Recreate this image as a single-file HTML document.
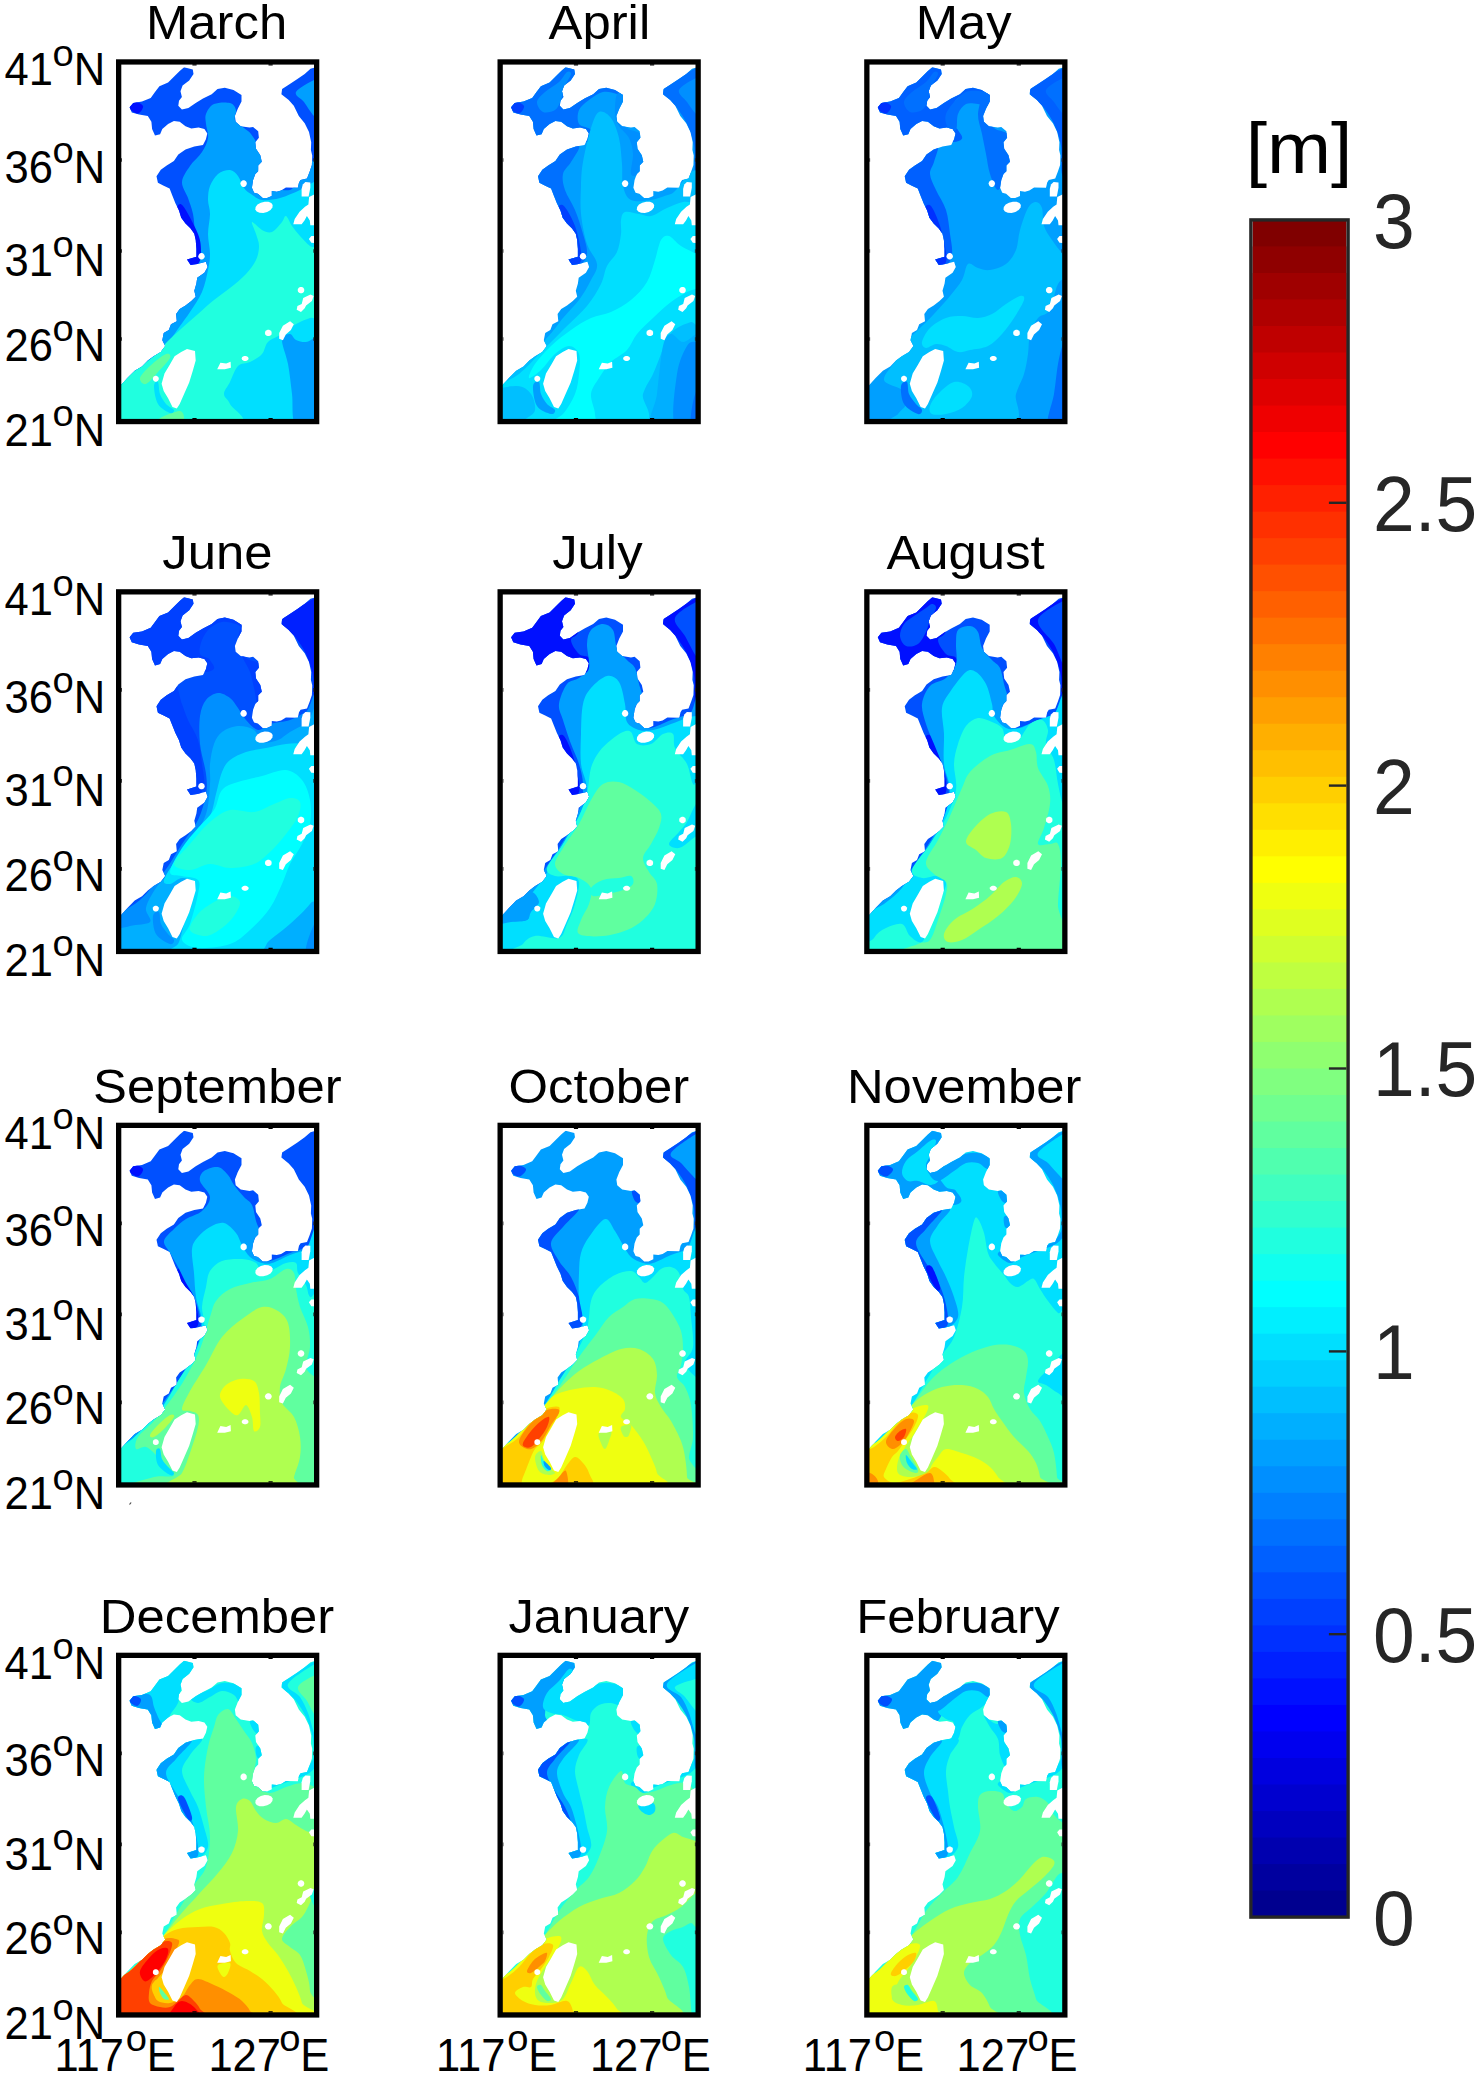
<!DOCTYPE html>
<html><head><meta charset="utf-8"><title>Monthly significant wave height</title>
<style>html,body{margin:0;padding:0;background:#fff}svg{display:block}text{font-family:"Liberation Sans",Arial,Helvetica,sans-serif}</style></head><body>
<svg width="1480" height="2076" viewBox="0 0 1480 2076">
<rect width="1480" height="2076" fill="#fff"/>
<defs>
<clipPath id="oc"><path d="M68.1 8L76.8 10.2L77.5 14.6L73.2 21.1L66.6 26.2L64.5 32L65.9 37.8L63 41.5L62.3 46.5L65.9 50.2L72.4 48.7L79.7 43.6L87 39.3L95.7 34.9L101.5 29.8L108.8 28.4L117.5 30.6L125.5 35.6L125.5 42.2L121.8 49.4L118.9 56.7L119.7 62.5L124.7 66.9L133.5 68.3L137.1 67.6L142.2 72L142.9 78.5L139.3 82.9L140 89.4L144.3 95.9L145.8 102.5L142.2 106.1L142.2 111.9L139.3 114.8L137.1 120.6L135.9 128.5L138.1 133.4L141.9 134.4L146.7 138.8L151 138.8L155.8 136.6L155.8 131.8L160.8 132.4L165.1 131.2L169.9 128.3L181.8 128.5L183 123.1L184.6 120.6L191 119.3L193.7 112.3L195.9 105.8L196.2 96.1L194.9 90.7L195.2 82.9L193 72.7L188.7 64L182.8 56.7L177.8 46.5L172.7 40.7L165.4 34.9L166.1 29.8L172.7 25.5L181.4 19.7L188.7 14.6L194.5 9.5L198.8 8.2L199 360.8L4.3 360.8L4.2 326.7L11.4 318.7L18.7 311.4L26 307.1L31.8 301.3L37.6 296.9L44.8 292.6L49.2 286.7L46.3 280.9L47.7 273.7L52.8 270.8L55 265L60.8 262L60.1 254.8L63.7 249.7L69.5 246.1L75.3 241.7L79.7 237.4L78.3 231.5L80.4 224.3L81.2 218.5L88.4 213.4L91.6 207.6L89.9 202.5L81.2 204.7L74.6 205.7L71 200.3L80.4 197.4L80.4 189.4L79.7 180.7L78.3 174.4L74.6 169.3L69.5 164.2L65.2 158.4L63 151.1L59.4 143.9L56.5 136.6L53.6 129.3L47.7 126.4L41.9 123.5L40.5 117L44.8 110.5L50.7 106.1L57.9 101.7L62.3 95.2L69.5 90.1L78.3 87.2L87 85.8L89.9 80L91.3 74.1L88.4 69.8L82.6 68.3L75.3 69.1L69.5 66.9L63.7 62.5L57.9 61.8L52.1 64.7L46.3 69.8L44.1 74.9L39 76.3L36.1 69.8L35.4 62.5L31.8 56.7L23.1 55.3L15.8 53.1L13.6 48L17.2 43.6L26 42.2L34.7 38.6L39 32.7L43.4 26.9L52.1 23.3L57.9 17.5L63.7 11.7Z"/></clipPath>
<clipPath id="bx"><rect x="2.65" y="2.65" width="198.0" height="359.59999999999997"/></clipPath>
<g id="isl" fill="#fff"><path d="M65.2 292.6L71 289.6L79 291.8L79.7 301.3L76.8 311.4L73.2 323.1L68.1 334.7L63.7 344.8L60.8 349.2L56.5 347.8L52.1 339L47.7 331.8L45.6 324.5L48.5 314.3L53.6 305.6L58.6 296.9Z"/><path d="M42.8 319.4L42.5 320.7L41.6 321.8L40.4 322.4L39.1 322.4L37.9 321.8L37.1 320.7L36.8 319.4L37.1 318.1L37.9 317.1L39.1 316.5L40.4 316.5L41.6 317.1L42.5 318.1Z"/><path d="M101.2 310L104.4 303.4L110.2 304.2L114.6 302.4L114.9 308.5L108.8 310Z"/><path d="M132.5 299.1L132.2 300.2L131.2 301.1L129.9 301.6L128.3 301.6L127 301.1L126 300.2L125.7 299.1L126 298L127 297.1L128.3 296.6L129.9 296.6L131.2 297.1L132.2 298Z"/><path d="M155.7 273.7L155.4 275.1L154.5 276.2L153.1 276.8L151.6 276.8L150.2 276.2L149.3 275.1L148.9 273.7L149.3 272.3L150.2 271.2L151.6 270.5L153.1 270.5L154.5 271.2L155.4 272.3Z"/><path d="M163.2 273.7L166.9 266.4L174.1 262L177.8 265L174.9 270.8L169.8 275.1L166.9 280.9L163.2 279.5Z"/><path d="M188.3 230.8L188 232.2L187.1 233.4L185.8 234L184.3 234L183 233.4L182 232.2L181.7 230.8L182 229.4L183 228.2L184.3 227.6L185.8 227.6L187.1 228.2L188 229.4Z"/><path d="M187.2 238.8L194.5 235.2L197.7 236.6L195.9 241.7L190.1 246.1L188.7 249L185 252.6L180.7 250.4L181.4 246.8L185.7 244.6Z"/><path d="M193.7 180L198.8 180L198.8 183.9L195.9 182.9Z"/><path d="M88.7 197L88.4 198.4L87.5 199.5L86.2 200.1L84.8 200.1L83.5 199.5L82.6 198.4L82.3 197L82.6 195.6L83.5 194.5L84.8 193.8L86.2 193.8L87.5 194.5L88.4 195.6Z"/><path d="M156.7 145.8L156.4 148.3L154.5 150.7L151.2 152.6L147.3 153.6L143.6 153.5L140.7 152.2L139.3 150.2L139.6 147.7L141.5 145.3L144.8 143.4L148.7 142.4L152.4 142.5L155.3 143.8Z"/><path d="M130.8 124.3L130.5 125.7L129.6 126.9L128.4 127.6L126.9 127.6L125.6 126.9L124.8 125.7L124.4 124.3L124.8 122.8L125.6 121.6L126.9 120.9L128.4 120.9L129.6 121.6L130.5 122.8Z"/><path d="M186.8 125.3L189.4 122.7L194.3 123.1L194.3 128.5L192.6 137.2L185.6 137.2L185.6 129.6Z"/><path d="M177.3 165L178.7 159.7L183.6 152.4L189 147.5L192.4 145.1L193.1 137.8L198.7 134.9L198.7 166L194.3 166L193.8 161.1L190.9 156.8L188.5 161.1L185.6 165Z"/><path d="M192.9 179.6L195.3 176.7L198.7 176.7L198.7 183.5L195.3 183.5Z"/></g>
<g id="fr"><rect x="2.65" y="2.65" width="198.0" height="359.59999999999997" fill="none" stroke="#000" stroke-width="5.3"/>
<path d="M78.5 5.0 v1.3 M78.5 359.9 v-1.3" stroke="#000" stroke-width="4.2" fill="none"/>
<path d="M154.6 5.0 v1.3 M154.6 359.9 v-1.3" stroke="#000" stroke-width="4.2" fill="none"/>
<path d="M5.0 100.7 h0.9 M198.3 100.7 h-0.9" stroke="#222" stroke-width="3.6" fill="none"/>
<path d="M5.0 191.7 h0.9 M198.3 191.7 h-0.9" stroke="#222" stroke-width="3.6" fill="none"/>
<path d="M5.0 279.7 h0.9 M198.3 279.7 h-0.9" stroke="#222" stroke-width="3.6" fill="none"/>
</g>
</defs>
<g transform="translate(116.0 59.3)">
<g clip-path="url(#bx)"><g clip-path="url(#oc)">
<rect x="0" y="0" width="203.3" height="364.9" fill="#0050ff"/>
<path d="M90 54.7C91.3 51.4 94 46.5 98 44.7C102 42.9 110.3 42.7 114 43.7C117.7 44.7 119.2 47.9 120 50.7C120.8 53.5 117.7 57.7 119 60.7C120.3 63.7 125.3 66.4 128 68.7C130.7 71 132.7 71.7 135 74.7C137.3 77.7 140.2 82 142 86.7C143.8 91.4 146 98 146 102.7C146 107.4 140.7 111 142 114.7C143.3 118.4 148.7 122 154 124.7C159.3 127.4 165.3 132.4 174 130.7C182.7 129 200.7 75.4 206 114.7C211.3 154 241.3 324.7 206 366.7C170.7 408.7 29.3 382 -6 366.7C-41.3 351.4 -16 296.7 -6 274.7C4 252.7 39.3 247 54 234.7C68.7 222.4 77.8 210.7 82 200.7C86.2 190.7 79.8 182.4 79 174.7C78.2 167 78.2 160.7 77 154.7C75.8 148.7 73.8 144 72 138.7C70.2 133.4 65.7 128 66 122.7C66.3 117.4 70.7 111.7 74 106.7C77.3 101.7 83 97.4 86 92.7C89 88 91.3 83.4 92 78.7C92.7 74 90.3 68.7 90 64.7C89.7 60.7 88.7 58 90 54.7Z" fill="#009fff"/>
<path d="M180 32.7C181.7 29 193.7 23 198 20.7C202.3 18.4 204.7 12 206 18.7C207.3 25.4 207.3 54.4 206 60.7C204.7 67 201 59.7 198 56.7C195 53.7 191 46.7 188 42.7C185 38.7 178.3 36.4 180 32.7Z" fill="#009fff"/>
<path d="M94 126.7C95.7 122.4 98.7 117.4 102 114.7C105.3 112 110.7 110.4 114 110.7C117.3 111 119.7 113.7 122 116.7C124.3 119.7 125.8 125.7 128 128.7C130.2 131.7 132 132.7 135 134.7C138 136.7 141.2 140 146 140.7C150.8 141.4 157.7 140.4 164 138.7C170.3 137 178.3 133.4 184 130.7C189.7 128 194.3 124.4 198 122.7C201.7 121 204.7 80 206 120.7C207.3 161.4 241.3 325.7 206 366.7C170.7 407.7 29.3 372 -6 366.7C-41.3 361.4 -11 344 -6 334.7C-1 325.4 16 317.4 24 310.7C32 304 37 299.7 42 294.7C47 289.7 50.3 285.4 54 280.7C57.7 276 60.7 271.4 64 266.7C67.3 262 70.3 258.4 74 252.7C77.7 247 83 239.7 86 232.7C89 225.7 90.7 217 92 210.7C93.3 204.4 94 200.7 94 194.7C94 188.7 92 181.4 92 174.7C92 168 94 160.4 94 154.7C94 149 92 145.4 92 140.7C92 136 92.3 131 94 126.7Z" fill="#00dfff"/>
<path d="M136 162.7C137 162 142.7 169 146 170.7C149.3 172.4 152.7 174 156 172.7C159.3 171.4 163.7 165.4 166 162.7C168.3 160 168.3 156 170 156.7C171.7 157.4 173.7 163.4 176 166.7C178.3 170 181 173.4 184 176.7C187 180 190.3 183.7 194 186.7C197.7 189.7 204 183.4 206 194.7C208 206 208 244 206 254.7C204 265.4 198.3 257 194 258.7C189.7 260.4 184.7 262 180 264.7C175.3 267.4 170.7 271.7 166 274.7C161.3 277.7 155.3 279.4 152 282.7C148.7 286 149 291.4 146 294.7C143 298 138 300.7 134 302.7C130 304.7 125.3 303.4 122 306.7C118.7 310 116.3 318 114 322.7C111.7 327.4 108 331 108 334.7C108 338.4 112 339.4 114 344.7C116 350 140 363 120 366.7C100 370.4 15 372.7 -6 366.7C-27 360.7 -10.3 340 -6 330.7C-1.7 321.4 12.7 316.4 20 310.7C27.3 305 33 301.2 38 296.7C43 292.2 45.3 288.4 50 283.7C54.7 279 60.7 273.5 66 268.7C71.3 263.9 76.7 259.4 82 254.7C87.3 250 92.7 245 98 240.7C103.3 236.4 108.7 233 114 228.7C119.3 224.4 125.7 219.4 130 214.7C134.3 210 137.8 205.4 140 200.7C142.2 196 143 191 143 186.7C143 182.4 141.2 178.7 140 174.7C138.8 170.7 135 163.4 136 162.7Z" fill="#20ffdf"/>
<path d="M24 318.7C24.7 315.7 29.7 310.7 34 306.7C38.3 302.7 46.7 296 50 294.7C53.3 293.4 55.3 295.7 54 298.7C52.7 301.7 46 308.4 42 312.7C38 317 33 323.7 30 324.7C27 325.7 23.3 321.7 24 318.7Z" fill="#60ff9f"/>
<path d="M42 360.7C41.7 358.9 60 351.4 64 351.7C68 352 69.7 361.2 66 362.7C62.3 364.2 42.3 362.5 42 360.7Z" fill="#60ff9f"/>
<path d="M166 280.7C166.3 275.7 171.7 274.7 174 274.7C176.3 274.7 177.3 279.4 180 280.7C182.7 282 187 283 190 282.7C193 282.4 195.3 280.4 198 278.7C200.7 277 204.7 258 206 272.7C207.3 287.4 210.3 351 206 366.7C201.7 382.4 185 372 180 366.7C175 361.4 177.3 345 176 334.7C174.7 324.4 173.7 313.7 172 304.7C170.3 295.7 165.7 285.7 166 280.7Z" fill="#009fff"/>
<path d="M38 326.7C38 323 41 321.4 42 322.7C43 324 42.7 331 44 334.7C45.3 338.4 47.7 342 50 344.7C52.3 347.4 57.3 349.2 58 350.7C58.7 352.2 56.7 354.7 54 353.7C51.3 352.7 44.7 349.2 42 344.7C39.3 340.2 38 330.4 38 326.7Z" fill="#00dfff"/>
<path d="M13 48.7C12.3 46.7 15.7 42.6 18 42.3C20.3 42 26.3 44.7 27 46.7C27.7 48.7 24.3 54 22 54.3C19.7 54.6 13.7 50.7 13 48.7Z" fill="#0010ff"/>
<path d="M61 148.7C61.2 146.4 63.5 142.4 67 146.7C70.5 151 79 167 82 174.7C85 182.4 85 187.7 85 192.7C85 197.7 84.3 202.7 82 204.7C79.7 206.7 72.8 205.9 71 204.7C69.2 203.5 69.7 199.4 71 197.7C72.3 196 78.5 198.5 79 194.7C79.5 190.9 76.2 180.4 74 174.7C71.8 169 68.2 165 66 160.7C63.8 156.4 60.8 151 61 148.7Z" fill="#0010ff"/>
</g><use href="#isl"/></g>
<use href="#fr"/>
</g>
<text transform="translate(216.55 39.1) scale(1.075 1.0)" font-size="47.3" text-anchor="middle" fill="#000">March</text>
<text transform="translate(4.6 85.4) scale(1.0 1.05)" font-size="43.5" text-anchor="start" fill="#000">41</text><text transform="translate(52.6 65.65) scale(1.06 1.0)" font-size="36" text-anchor="start" fill="#000">o</text><text transform="translate(73.8 85.4) scale(1.0 1.05)" font-size="43.5" text-anchor="start" fill="#000">N</text>
<text transform="translate(4.6 182.7) scale(1.0 1.05)" font-size="43.5" text-anchor="start" fill="#000">36</text><text transform="translate(52.6 162.95) scale(1.06 1.0)" font-size="36" text-anchor="start" fill="#000">o</text><text transform="translate(73.8 182.7) scale(1.0 1.05)" font-size="43.5" text-anchor="start" fill="#000">N</text>
<text transform="translate(4.6 276.3) scale(1.0 1.05)" font-size="43.5" text-anchor="start" fill="#000">31</text><text transform="translate(52.6 256.55) scale(1.06 1.0)" font-size="36" text-anchor="start" fill="#000">o</text><text transform="translate(73.8 276.3) scale(1.0 1.05)" font-size="43.5" text-anchor="start" fill="#000">N</text>
<text transform="translate(4.6 361) scale(1.0 1.05)" font-size="43.5" text-anchor="start" fill="#000">26</text><text transform="translate(52.6 341.25) scale(1.06 1.0)" font-size="36" text-anchor="start" fill="#000">o</text><text transform="translate(73.8 361) scale(1.0 1.05)" font-size="43.5" text-anchor="start" fill="#000">N</text>
<text transform="translate(4.6 446) scale(1.0 1.05)" font-size="43.5" text-anchor="start" fill="#000">21</text><text transform="translate(52.6 426.25) scale(1.06 1.0)" font-size="36" text-anchor="start" fill="#000">o</text><text transform="translate(73.8 446) scale(1.0 1.05)" font-size="43.5" text-anchor="start" fill="#000">N</text>
<g transform="translate(497.5 59.3)">
<g clip-path="url(#bx)"><g clip-path="url(#oc)">
<rect x="0" y="0" width="203.3" height="364.9" fill="#009fff"/>
<path d="M3.5 4.7C25.2 -8.3 111.8 -1.3 133.5 4.7C155.2 10.7 135.8 35.7 133.5 40.7C131.2 45.7 124.2 36 119.5 34.7C114.8 33.4 110.2 31.7 105.5 32.7C100.8 33.7 95.5 37.7 91.5 40.7C87.5 43.7 83.2 46.7 81.5 50.7C79.8 54.7 79.5 61.4 81.5 64.7C83.5 68 92.2 67.7 93.5 70.7C94.8 73.7 104.5 80.7 89.5 82.7C74.5 84.7 17.8 95.7 3.5 82.7C-10.8 69.7 -18.2 17.7 3.5 4.7Z" fill="#0070ff"/>
<path d="M39.5 42.7C39.8 39.4 43.8 36 47.5 32.7C51.2 29.4 57.8 26 61.5 22.7C65.2 19.4 67.5 14 69.5 12.7C71.5 11.4 73.8 12.4 73.5 14.7C73.2 17 69.2 22.4 67.5 26.7C65.8 31 65.2 36.7 63.5 40.7C61.8 44.7 60.5 48.7 57.5 50.7C54.5 52.7 48.5 54 45.5 52.7C42.5 51.4 39.2 46 39.5 42.7Z" fill="#008fff"/>
<path d="M12.5 48.7C11.8 46.7 15.2 42.6 17.5 42.3C19.8 42 25.8 44.7 26.5 46.7C27.2 48.7 23.8 54 21.5 54.3C19.2 54.6 13.2 50.7 12.5 48.7Z" fill="#0040ff"/>
<path d="M39.5 118.7C40.8 111.7 54.5 98 61.5 92.7C68.5 87.4 79.5 85 81.5 86.7C83.5 88.4 76.2 98 73.5 102.7C70.8 107.4 66.5 110 65.5 114.7C64.5 119.4 65.5 124.7 67.5 130.7C69.5 136.7 74.5 143.4 77.5 150.7C80.5 158 83.5 167.4 85.5 174.7C87.5 182 90.2 189.4 89.5 194.7C88.8 200 84.8 205 81.5 206.7C78.2 208.4 70.8 208.4 69.5 204.7C68.2 201 74.2 192 73.5 184.7C72.8 177.4 68.8 169 65.5 160.7C62.2 152.4 57.8 141.7 53.5 134.7C49.2 127.7 38.2 125.7 39.5 118.7Z" fill="#0070ff"/>
<path d="M60.5 148.7C60.7 146.4 63.7 143.7 66.5 146.7C69.3 149.7 74.7 159 77.5 166.7C80.3 174.4 82.8 186.4 83.5 192.7C84.2 199 83.7 202.7 81.5 204.7C79.3 206.7 72.3 205.9 70.5 204.7C68.7 203.5 69.2 199.4 70.5 197.7C71.8 196 78 198.5 78.5 194.7C79 190.9 75.7 180.4 73.5 174.7C71.3 169 67.7 165 65.5 160.7C63.3 156.4 60.3 151 60.5 148.7Z" fill="#0040ff"/>
<path d="M119.5 34.7C121.2 32 126.8 35.4 127.5 38.7C128.2 42 123.2 49.7 123.5 54.7C123.8 59.7 126.2 65.4 129.5 68.7C132.8 72 141.5 71.7 143.5 74.7C145.5 77.7 140.8 82 141.5 86.7C142.2 91.4 147.5 98 147.5 102.7C147.5 107.4 143.8 112.7 141.5 114.7C139.2 116.7 134.5 118 133.5 114.7C132.5 111.4 135.8 100.7 135.5 94.7C135.2 88.7 133.8 83.4 131.5 78.7C129.2 74 123.8 70.7 121.5 66.7C119.2 62.7 117.8 60 117.5 54.7C117.2 49.4 117.8 37.4 119.5 34.7Z" fill="#008fff"/>
<path d="M165.5 30.7C168.7 24 191.8 12.4 198.5 8.7C205.2 5 204.3 -9 205.5 8.7C206.7 26.4 206.8 97 205.5 114.7C204.2 132.4 199 119.4 197.5 114.7C196 110 197.8 95 196.5 86.7C195.2 78.4 192.3 71 189.5 64.7C186.7 58.4 183.5 54.4 179.5 48.7C175.5 43 162.3 37.4 165.5 30.7Z" fill="#0070ff"/>
<path d="M181.5 30.7C183 26.7 194.5 20.7 198.5 18.7C202.5 16.7 204.3 12 205.5 18.7C206.7 25.4 206.7 52.7 205.5 58.7C204.3 64.7 201.2 57.4 198.5 54.7C195.8 52 192.3 46.7 189.5 42.7C186.7 38.7 180 34.7 181.5 30.7Z" fill="#008fff"/>
<path d="M85.5 102.7C87.2 93 90.8 77 93.5 68.7C96.2 60.4 98.2 54.4 101.5 52.7C104.8 51 110.2 54.4 113.5 58.7C116.8 63 119.7 71 121.5 78.7C123.3 86.4 123.8 96.7 124.5 104.7C125.2 112.7 124 120.7 125.5 126.7C127 132.7 128.8 138.4 133.5 140.7C138.2 143 146.8 141.7 153.5 140.7C160.2 139.7 164.8 137 173.5 134.7C182.2 132.4 200.2 88 205.5 126.7C210.8 165.4 240.8 326.7 205.5 366.7C170.2 406.7 28.8 372 -6.5 366.7C-41.8 361.4 -15.5 349 -6.5 334.7C2.5 320.4 35.5 293.4 47.5 280.7C59.5 268 59.8 265.4 65.5 258.7C71.2 252 76.8 247 81.5 240.7C86.2 234.4 90.5 226.7 93.5 220.7C96.5 214.7 100.2 210.7 99.5 204.7C98.8 198.7 92.2 193 89.5 184.7C86.8 176.4 84.5 164.4 83.5 154.7C82.5 145 83.2 135.4 83.5 126.7C83.8 118 83.8 112.4 85.5 102.7Z" fill="#00bfff"/>
<path d="M123.5 160.7C124.2 157 124.5 153.7 127.5 152.7C130.5 151.7 137.2 154 141.5 154.7C145.8 155.4 148.8 157.7 153.5 156.7C158.2 155.7 164.2 151 169.5 148.7C174.8 146.4 180.7 143.4 185.5 142.7C190.3 142 195.2 144 198.5 144.7C201.8 145.4 204.3 127.7 205.5 146.7C206.7 165.7 207.5 239.4 205.5 258.7C203.5 278 197.8 261 193.5 262.7C189.2 264.4 183.5 266 179.5 268.7C175.5 271.4 172.2 274.4 169.5 278.7C166.8 283 165.8 288.7 163.5 294.7C161.2 300.7 158.5 308 155.5 314.7C152.5 321.4 148.2 326 145.5 334.7C142.8 343.4 164.8 361.4 139.5 366.7C114.2 372 17.8 372.4 -6.5 366.7C-30.8 361 -11.2 341.4 -6.5 332.7C-1.8 324 12.5 322 21.5 314.7C30.5 307.4 39.5 296.7 47.5 288.7C55.5 280.7 62.5 273.7 69.5 266.7C76.5 259.7 83.8 253.7 89.5 246.7C95.2 239.7 100.2 231.4 103.5 224.7C106.8 218 106.8 212 109.5 206.7C112.2 201.4 117.2 198 119.5 192.7C121.8 187.4 122.8 180 123.5 174.7C124.2 169.4 122.8 164.4 123.5 160.7Z" fill="#00dfff"/>
<path d="M163.5 180.7C165.8 176.7 168.2 175.7 171.5 176.7C174.8 177.7 177.8 182.7 183.5 186.7C189.2 190.7 201.8 194.4 205.5 200.7C209.2 207 208.2 219.4 205.5 224.7C202.8 230 194.8 229.7 189.5 232.7C184.2 235.7 179.2 238.4 173.5 242.7C167.8 247 161.2 253.4 155.5 258.7C149.8 264 143.8 269.4 139.5 274.7C135.2 280 133.8 286 129.5 290.7C125.2 295.4 118.2 298 113.5 302.7C108.8 307.4 104.8 313.4 101.5 318.7C98.2 324 94.2 328.7 93.5 334.7C92.8 340.7 97.5 349.4 97.5 354.7C97.5 360 101.5 364.7 93.5 366.7C85.5 368.7 54.2 368.7 49.5 366.7C44.8 364.7 60.8 360 65.5 354.7C70.2 349.4 74.8 341.4 77.5 334.7C80.2 328 80.8 321.4 81.5 314.7C82.2 308 83.2 299.4 81.5 294.7C79.8 290 75.5 286.7 71.5 286.7C67.5 286.7 62.2 290.7 57.5 294.7C52.8 298.7 47.8 306.7 43.5 310.7C39.2 314.7 32.5 319.7 31.5 318.7C30.5 317.7 33.8 310 37.5 304.7C41.2 299.4 47.5 292.4 53.5 286.7C59.5 281 66.8 275.4 73.5 270.7C80.2 266 86.8 261.7 93.5 258.7C100.2 255.7 106.8 255.7 113.5 252.7C120.2 249.7 127.5 245.7 133.5 240.7C139.5 235.7 145.5 229.4 149.5 222.7C153.5 216 155.2 207.7 157.5 200.7C159.8 193.7 161.2 184.7 163.5 180.7Z" fill="#00ffff"/>
<path d="M165.5 286.7C167.8 276.7 170.2 275.4 173.5 274.7C176.8 274 181.3 282.7 185.5 282.7C189.7 282.7 195.2 276.7 198.5 274.7C201.8 272.7 204.3 255.4 205.5 270.7C206.7 286 213.8 350.7 205.5 366.7C197.2 382.7 163.2 372 155.5 366.7C147.8 361.4 157.8 348 159.5 334.7C161.2 321.4 163.2 296.7 165.5 286.7Z" fill="#00afff"/>
<path d="M179.5 314.7C181.5 301.4 186.3 292 189.5 286.7C192.7 281.4 195.8 282.7 198.5 282.7C201.2 282.7 204.3 272.7 205.5 286.7C206.7 300.7 210.2 353.4 205.5 366.7C200.8 380 181.8 375.4 177.5 366.7C173.2 358 177.5 328 179.5 314.7Z" fill="#008fff"/>
<path d="M193.5 366.7C192 362 194.5 346 196.5 338.7C198.5 331.4 204 318 205.5 322.7C207 327.4 207.5 359.4 205.5 366.7C203.5 374 195 371.4 193.5 366.7Z" fill="#0070ff"/>
<path d="M35.5 326.7C35.8 322.7 40.2 321.4 41.5 322.7C42.8 324 42.2 331 43.5 334.7C44.8 338.4 47.2 342 49.5 344.7C51.8 347.4 56.8 349 57.5 350.7C58.2 352.4 56.5 355.4 53.5 354.7C50.5 354 42.5 351.4 39.5 346.7C36.5 342 35.2 330.7 35.5 326.7Z" fill="#009fff"/>
<path d="M-6.5 366.7C-9.8 361.4 -10.8 341.4 -6.5 334.7C-2.2 328 12.8 326.7 19.5 326.7C26.2 326.7 30.5 330.7 33.5 334.7C36.5 338.7 38.2 346.7 37.5 350.7C36.8 354.7 33.5 356 29.5 358.7C25.5 361.4 19.5 365.4 13.5 366.7C7.5 368 -3.2 372 -6.5 366.7Z" fill="#00bfff"/>
</g><use href="#isl"/></g>
<use href="#fr"/>
</g>
<text transform="translate(599.35 39.1) scale(1.075 1.0)" font-size="47.3" text-anchor="middle" fill="#000">April</text>
<g transform="translate(864.2 59.3)">
<g clip-path="url(#bx)"><g clip-path="url(#oc)">
<rect x="0" y="0" width="203.3" height="364.9" fill="#009fff"/>
<path d="M3.8 4.7C25.5 -8.3 112.1 -1.3 133.8 4.7C155.5 10.7 136.1 35.7 133.8 40.7C131.5 45.7 124.5 36 119.8 34.7C115.1 33.4 110.1 32 105.8 32.7C101.5 33.4 97.1 35.7 93.8 38.7C90.5 41.7 87.5 46.4 85.8 50.7C84.1 55 82.5 61.4 83.8 64.7C85.1 68 92.8 67.7 93.8 70.7C94.8 73.7 104.8 80.7 89.8 82.7C74.8 84.7 18.1 95.7 3.8 82.7C-10.5 69.7 -17.9 17.7 3.8 4.7Z" fill="#0060ff"/>
<path d="M39.8 42.7C40.1 39.4 44.1 36 47.8 32.7C51.5 29.4 58.1 26 61.8 22.7C65.5 19.4 67.8 14 69.8 12.7C71.8 11.4 74.1 12.4 73.8 14.7C73.5 17 69.5 22.4 67.8 26.7C66.1 31 65.5 36.7 63.8 40.7C62.1 44.7 60.8 48.7 57.8 50.7C54.8 52.7 48.8 54 45.8 52.7C42.8 51.4 39.5 46 39.8 42.7Z" fill="#0070ff"/>
<path d="M12.8 48.7C12.1 46.7 15.5 42.6 17.8 42.3C20.1 42 26.1 44.7 26.8 46.7C27.5 48.7 24.1 54 21.8 54.3C19.5 54.6 13.5 50.7 12.8 48.7Z" fill="#0030ff"/>
<path d="M39.8 118.7C41.1 111.7 56.1 98 61.8 92.7C67.5 87.4 72.5 85 73.8 86.7C75.1 88.4 71.1 98 69.8 102.7C68.5 107.4 65.5 110 65.8 114.7C66.1 119.4 69.1 124.7 71.8 130.7C74.5 136.7 79.5 143.4 81.8 150.7C84.1 158 84.8 167.4 85.8 174.7C86.8 182 88.5 189.4 87.8 194.7C87.1 200 84.8 205 81.8 206.7C78.8 208.4 71.1 208.4 69.8 204.7C68.5 201 74.5 192 73.8 184.7C73.1 177.4 69.1 169 65.8 160.7C62.5 152.4 58.1 141.7 53.8 134.7C49.5 127.7 38.5 125.7 39.8 118.7Z" fill="#0060ff"/>
<path d="M60.8 148.7C61 146.4 64.3 143.7 66.8 146.7C69.3 149.7 73.3 159 75.8 166.7C78.3 174.4 81 186.4 81.8 192.7C82.6 199 82.6 202.7 80.8 204.7C79 206.7 72.5 205.9 70.8 204.7C69.1 203.5 69.6 199.4 70.8 197.7C72 196 77.5 198.5 77.8 194.7C78.1 190.9 74.8 180.4 72.8 174.7C70.8 169 67.8 165 65.8 160.7C63.8 156.4 60.6 151 60.8 148.7Z" fill="#0030ff"/>
<path d="M119.8 34.7C122.1 32 127.1 35.4 127.8 38.7C128.5 42 123.5 49.7 123.8 54.7C124.1 59.7 126.5 65.4 129.8 68.7C133.1 72 141.8 71.7 143.8 74.7C145.8 77.7 141.1 82 141.8 86.7C142.5 91.4 147.8 98 147.8 102.7C147.8 107.4 144.1 110 141.8 114.7C139.5 119.4 136.5 130.7 133.8 130.7C131.1 130.7 127.8 120.7 125.8 114.7C123.8 108.7 123.1 101.4 121.8 94.7C120.5 88 119.1 81.4 117.8 74.7C116.5 68 113.5 61.4 113.8 54.7C114.1 48 117.5 37.4 119.8 34.7Z" fill="#0070ff"/>
<path d="M165.8 30.7C169 24 192.1 12.4 198.8 8.7C205.5 5 204.6 -9 205.8 8.7C207 26.4 207.1 97 205.8 114.7C204.5 132.4 199.3 119.4 197.8 114.7C196.3 110 198.1 95 196.8 86.7C195.5 78.4 192.6 71 189.8 64.7C187 58.4 183.8 54.4 179.8 48.7C175.8 43 162.6 37.4 165.8 30.7Z" fill="#0060ff"/>
<path d="M181.8 30.7C183.3 26.7 194.8 20.7 198.8 18.7C202.8 16.7 204.6 12 205.8 18.7C207 25.4 207 52.7 205.8 58.7C204.6 64.7 201.5 57.4 198.8 54.7C196.1 52 192.6 46.7 189.8 42.7C187 38.7 180.3 34.7 181.8 30.7Z" fill="#0070ff"/>
<path d="M81.8 54.7C83.5 49.7 89.8 42.5 93.8 38.7C97.8 34.9 100.5 32.4 105.8 31.7C111.1 31 122.8 32.2 125.8 34.7C128.8 37.2 125.8 45 123.8 46.7C121.8 48.4 117.5 45 113.8 44.7C110.1 44.4 105.1 43 101.8 44.7C98.5 46.4 95.5 50.4 93.8 54.7C92.1 59 93.5 68.4 91.8 70.7C90.1 73 85.5 71.4 83.8 68.7C82.1 66 80.1 59.7 81.8 54.7Z" fill="#0070ff"/>
<path d="M163.8 148.7C166.5 144 169.5 142.7 171.8 142.7C174.1 142.7 176.5 144.7 177.8 148.7C179.1 152.7 178.1 161.4 179.8 166.7C181.5 172 184.6 176 187.8 180.7C191 185.4 195.8 191.7 198.8 194.7C201.8 197.7 204.6 195.4 205.8 198.7C207 202 207.8 210.4 205.8 214.7C203.8 219 197.1 218.7 193.8 224.7C190.5 230.7 189.1 245 185.8 250.7C182.5 256.4 177.1 254.7 173.8 258.7C170.5 262.7 167.5 268.7 165.8 274.7C164.1 280.7 164.8 288 163.8 294.7C162.8 301.4 161.8 308 159.8 314.7C157.8 321.4 154.5 326 151.8 334.7C149.1 343.4 164.5 361.4 143.8 366.7C123.1 372 46.1 368.7 27.8 366.7C9.5 364.7 31.5 358.4 33.8 354.7C36.1 351 41.1 348.7 41.8 344.7C42.5 340.7 41.5 334.7 37.8 330.7C34.1 326.7 20.8 325.7 19.8 320.7C18.8 315.7 28.8 306.4 31.8 300.7C34.8 295 34.1 291.7 37.8 286.7C41.5 281.7 48.5 276 53.8 270.7C59.1 265.4 64.5 260.4 69.8 254.7C75.1 249 81.1 242.4 85.8 236.7C90.5 231 94.8 226 97.8 220.7C100.8 215.4 101.1 206.7 103.8 204.7C106.5 202.7 110.1 207.7 113.8 208.7C117.5 209.7 121.1 211.4 125.8 210.7C130.5 210 137.5 208 141.8 204.7C146.1 201.4 149.5 196.4 151.8 190.7C154.1 185 153.8 177.7 155.8 170.7C157.8 163.7 161.1 153.4 163.8 148.7Z" fill="#00bfff"/>
<path d="M57.8 282.7C58.5 279.4 61.8 272.7 65.8 268.7C69.8 264.7 76.5 260.7 81.8 258.7C87.1 256.7 92.5 256.7 97.8 256.7C103.1 256.7 108.8 259 113.8 258.7C118.8 258.4 123.1 257 127.8 254.7C132.5 252.4 137.1 247.7 141.8 244.7C146.5 241.7 152.8 237.4 155.8 236.7C158.8 236 160.8 237 159.8 240.7C158.8 244.4 153.5 253 149.8 258.7C146.1 264.4 142.1 270 137.8 274.7C133.5 279.4 129.1 284 123.8 286.7C118.5 289.4 110.8 289.7 105.8 290.7C100.8 291.7 97.8 293.4 93.8 292.7C89.8 292 85.5 288 81.8 286.7C78.1 285.4 75.1 284.4 71.8 284.7C68.5 285 64.1 289 61.8 288.7C59.5 288.4 57.1 286 57.8 282.7Z" fill="#00dfff"/>
<path d="M65.8 346.7C66.8 343.4 69.8 338.7 73.8 334.7C77.8 330.7 84.8 324 89.8 322.7C94.8 321.4 100.8 324.4 103.8 326.7C106.8 329 108.8 333 107.8 336.7C106.8 340.4 102.1 345.7 97.8 348.7C93.5 351.7 86.8 353.7 81.8 354.7C76.8 355.7 70.5 356 67.8 354.7C65.1 353.4 64.8 350 65.8 346.7Z" fill="#00dfff"/>
<path d="M183.8 366.7C181.1 361.4 188.1 345 189.8 334.7C191.5 324.4 192.3 313 193.8 304.7C195.3 296.4 196.8 289.7 198.8 284.7C200.8 279.7 204.6 261 205.8 274.7C207 288.4 209.5 351.4 205.8 366.7C202.1 382 186.5 372 183.8 366.7Z" fill="#0070ff"/>
<path d="M36.8 326.7C37.3 323 41.5 321.4 42.8 322.7C44.1 324 43.3 331 44.8 334.7C46.3 338.4 49.6 342 51.8 344.7C54 347.4 57.5 349 57.8 350.7C58.1 352.4 56.8 355.7 53.8 354.7C50.8 353.7 42.6 349.4 39.8 344.7C37 340 36.3 330.4 36.8 326.7Z" fill="#0070ff"/>
</g><use href="#isl"/></g>
<use href="#fr"/>
</g>
<text transform="translate(963.75 39.1) scale(1.075 1.0)" font-size="47.3" text-anchor="middle" fill="#000">May</text>
<g transform="translate(116.0 589.2)">
<g clip-path="url(#bx)"><g clip-path="url(#oc)">
<rect x="0" y="0" width="203.3" height="364.9" fill="#0050ff"/>
<path d="M4 4.8C25.7 -8.2 112.3 -1.2 134 4.8C155.7 10.8 136.3 35.8 134 40.8C131.7 45.8 124.7 36.1 120 34.8C115.3 33.5 110.3 32.1 106 32.8C101.7 33.5 97.3 35.8 94 38.8C90.7 41.8 87.7 46.5 86 50.8C84.3 55.1 82.7 61.5 84 64.8C85.3 68.1 93 67.8 94 70.8C95 73.8 105 80.8 90 82.8C75 84.8 18.3 95.8 4 82.8C-10.3 69.8 -17.7 17.8 4 4.8Z" fill="#0040ff"/>
<path d="M166 30.8C169.2 24.1 192.3 12.5 199 8.8C205.7 5.1 204.8 -8.9 206 8.8C207.2 26.5 207.3 97.1 206 114.8C204.7 132.5 199.5 119.5 198 114.8C196.5 110.1 198.3 95.1 197 86.8C195.7 78.5 192.8 71.1 190 64.8C187.2 58.5 184 54.5 180 48.8C176 43.1 162.8 37.5 166 30.8Z" fill="#0020ff"/>
<path d="M40 118.8C40.7 112.1 53.7 95.5 58 94.8C62.3 94.1 63.7 108.8 66 114.8C68.3 120.8 69.3 124.8 72 130.8C74.7 136.8 79.7 143.5 82 150.8C84.3 158.1 85 167.5 86 174.8C87 182.1 88.7 189.5 88 194.8C87.3 200.1 85 205.1 82 206.8C79 208.5 71.3 208.5 70 204.8C68.7 201.1 74.7 192.1 74 184.8C73.3 177.5 69.3 169.1 66 160.8C62.7 152.5 58.3 141.8 54 134.8C49.7 127.8 39.3 125.5 40 118.8Z" fill="#0040ff"/>
<path d="M126 34.8C127 32.8 128.3 35.5 128 38.8C127.7 42.1 123.7 49.8 124 54.8C124.3 59.8 126.7 65.5 130 68.8C133.3 72.1 142 71.8 144 74.8C146 77.8 141.3 82.1 142 86.8C142.7 91.5 148 98.1 148 102.8C148 107.5 143.7 115.5 142 114.8C140.3 114.1 139.3 104.1 138 98.8C136.7 93.5 136 88.1 134 82.8C132 77.5 128 72.1 126 66.8C124 61.5 122 56.1 122 50.8C122 45.5 125 36.8 126 34.8Z" fill="#0040ff"/>
<path d="M84 126.8C85 119.5 87 114.6 90 110.8C93 107 98 104.1 102 103.8C106 103.5 110.7 106.3 114 108.8C117.3 111.3 119.3 115.1 122 118.8C124.7 122.5 126.7 127.1 130 130.8C133.3 134.5 138 140.1 142 140.8C146 141.5 148.7 136.5 154 134.8C159.3 133.1 168 132.8 174 130.8C180 128.8 184.7 125.5 190 122.8C195.3 120.1 203.3 74.1 206 114.8C208.7 155.5 241.3 324.8 206 366.8C170.7 408.8 29.3 372.5 -6 366.8C-41.3 361.1 -11 342.1 -6 332.8C-1 323.5 15 319.1 24 310.8C33 302.5 41 292.1 48 282.8C55 273.5 60.3 263.5 66 254.8C71.7 246.1 78 239.1 82 230.8C86 222.5 88.7 212.5 90 204.8C91.3 197.1 91 193.1 90 184.8C89 176.5 85 164.5 84 154.8C83 145.1 83 134.1 84 126.8Z" fill="#008fff"/>
<path d="M98 154.8C100 149.5 102 145.8 106 142.8C110 139.8 116.7 137.1 122 136.8C127.3 136.5 134 138.1 138 140.8C142 143.5 142 151.1 146 152.8C150 154.5 157.3 152.5 162 150.8C166.7 149.1 169.3 145.5 174 142.8C178.7 140.1 184.7 136.8 190 134.8C195.3 132.8 203.3 92.1 206 130.8C208.7 169.5 241.3 327.5 206 366.8C170.7 406.1 29.3 370.5 -6 366.8C-41.3 363.1 -9.3 349.8 -6 344.8C-2.7 339.8 7.3 338.8 14 336.8C20.7 334.8 31.3 335.8 34 332.8C36.7 329.8 29 324.5 30 318.8C31 313.1 36 304.8 40 298.8C44 292.8 48.3 290.1 54 282.8C59.7 275.5 68 264.5 74 254.8C80 245.1 86.7 234.8 90 224.8C93.3 214.8 93.3 203.1 94 194.8C94.7 186.5 93.3 181.5 94 174.8C94.7 168.1 96 160.1 98 154.8Z" fill="#00afff"/>
<path d="M106 182.8C108.3 177.1 110 174.1 114 170.8C118 167.5 124 164.8 130 162.8C136 160.8 143.3 160.1 150 158.8C156.7 157.5 164 155.5 170 154.8C176 154.1 181.2 153.5 186 154.8C190.8 156.1 195.7 160.8 199 162.8C202.3 164.8 204.8 144.8 206 166.8C207.2 188.8 208 270.1 206 294.8C204 319.5 199.3 308.1 194 314.8C188.7 321.5 180.7 328.8 174 334.8C167.3 340.8 160.7 345.5 154 350.8C147.3 356.1 151.3 364.1 134 366.8C116.7 369.5 62 368.8 50 366.8C38 364.8 59 360.1 62 354.8C65 349.5 66 341.5 68 334.8C70 328.1 72.3 321.5 74 314.8C75.7 308.1 79.3 299.1 78 294.8C76.7 290.5 70 288.8 66 288.8C62 288.8 57 294.5 54 294.8C51 295.1 47 294.8 48 290.8C49 286.8 55 277.5 60 270.8C65 264.1 72.3 258.1 78 250.8C83.7 243.5 90.3 234.5 94 226.8C97.7 219.1 98 212.1 100 204.8C102 197.5 103.7 188.5 106 182.8Z" fill="#00dfff"/>
<path d="M170 180.8C176.7 181.5 182 185.8 186 190.8C190 195.8 192.7 203.5 194 210.8C195.3 218.1 195.3 227.5 194 234.8C192.7 242.1 189.3 248.1 186 254.8C182.7 261.5 177.3 268.1 174 274.8C170.7 281.5 169.3 287.5 166 294.8C162.7 302.1 159.3 311.1 154 318.8C148.7 326.5 140.7 334.8 134 340.8C127.3 346.8 122.7 351.8 114 354.8C105.3 357.8 90 359.5 82 358.8C74 358.1 67.3 354.8 66 350.8C64.7 346.8 71.3 342.5 74 334.8C76.7 327.1 80.7 312.1 82 304.8C83.3 297.5 84.7 293.8 82 290.8C79.3 287.8 70.7 288.1 66 286.8C61.3 285.5 54 287.5 54 282.8C54 278.1 61.3 266.1 66 258.8C70.7 251.5 76.7 245.1 82 238.8C87.3 232.5 94 227.1 98 220.8C102 214.5 102 205.5 106 200.8C110 196.1 115.3 195.1 122 192.8C128.7 190.5 138 188.8 146 186.8C154 184.8 163.3 180.1 170 180.8Z" fill="#00ffff"/>
<path d="M58 274.8C58 270.5 68 261.8 74 254.8C80 247.8 87.3 238.5 94 232.8C100.7 227.1 106.7 222.5 114 220.8C121.3 219.1 130.7 223.8 138 222.8C145.3 221.8 152 217.1 158 214.8C164 212.5 169.7 209.1 174 208.8C178.3 208.5 182.7 209.8 184 212.8C185.3 215.8 184.3 221.5 182 226.8C179.7 232.1 174.7 238.8 170 244.8C165.3 250.8 159.3 257.8 154 262.8C148.7 267.8 144.7 272.1 138 274.8C131.3 277.5 121.3 278.8 114 278.8C106.7 278.8 100.7 274.5 94 274.8C87.3 275.1 80 280.8 74 280.8C68 280.8 58 279.1 58 274.8Z" fill="#20ffdf"/>
<path d="M74 340.8C72.7 337.1 78 329.5 82 324.8C86 320.1 92.7 315.8 98 312.8C103.3 309.8 109.7 306.8 114 306.8C118.3 306.8 123.3 309.5 124 312.8C124.7 316.1 121 322.5 118 326.8C115 331.1 110.7 335.5 106 338.8C101.3 342.1 95.3 346.5 90 346.8C84.7 347.1 75.3 344.5 74 340.8Z" fill="#20ffdf"/>
<path d="M190 366.8C188 363.1 191.3 351.8 194 344.8C196.7 337.8 204 321.1 206 324.8C208 328.5 208.7 359.8 206 366.8C203.3 373.8 192 370.5 190 366.8Z" fill="#008fff"/>
<path d="M37 326.8C37.5 323.1 41.7 321.5 43 322.8C44.3 324.1 43.5 331.1 45 334.8C46.5 338.5 49.8 342.1 52 344.8C54.2 347.5 57.7 349.1 58 350.8C58.3 352.5 57 355.8 54 354.8C51 353.8 42.8 349.5 40 344.8C37.2 340.1 36.5 330.5 37 326.8Z" fill="#008fff"/>
</g><use href="#isl"/></g>
<use href="#fr"/>
</g>
<text transform="translate(217.35 569) scale(1.075 1.0)" font-size="47.3" text-anchor="middle" fill="#000">June</text>
<text transform="translate(4.6 615.3) scale(1.0 1.05)" font-size="43.5" text-anchor="start" fill="#000">41</text><text transform="translate(52.6 595.55) scale(1.06 1.0)" font-size="36" text-anchor="start" fill="#000">o</text><text transform="translate(73.8 615.3) scale(1.0 1.05)" font-size="43.5" text-anchor="start" fill="#000">N</text>
<text transform="translate(4.6 712.6) scale(1.0 1.05)" font-size="43.5" text-anchor="start" fill="#000">36</text><text transform="translate(52.6 692.85) scale(1.06 1.0)" font-size="36" text-anchor="start" fill="#000">o</text><text transform="translate(73.8 712.6) scale(1.0 1.05)" font-size="43.5" text-anchor="start" fill="#000">N</text>
<text transform="translate(4.6 806.2) scale(1.0 1.05)" font-size="43.5" text-anchor="start" fill="#000">31</text><text transform="translate(52.6 786.45) scale(1.06 1.0)" font-size="36" text-anchor="start" fill="#000">o</text><text transform="translate(73.8 806.2) scale(1.0 1.05)" font-size="43.5" text-anchor="start" fill="#000">N</text>
<text transform="translate(4.6 890.9) scale(1.0 1.05)" font-size="43.5" text-anchor="start" fill="#000">26</text><text transform="translate(52.6 871.15) scale(1.06 1.0)" font-size="36" text-anchor="start" fill="#000">o</text><text transform="translate(73.8 890.9) scale(1.0 1.05)" font-size="43.5" text-anchor="start" fill="#000">N</text>
<text transform="translate(4.6 975.9) scale(1.0 1.05)" font-size="43.5" text-anchor="start" fill="#000">21</text><text transform="translate(52.6 956.15) scale(1.06 1.0)" font-size="36" text-anchor="start" fill="#000">o</text><text transform="translate(73.8 975.9) scale(1.0 1.05)" font-size="43.5" text-anchor="start" fill="#000">N</text>
<g transform="translate(497.5 589.2)">
<g clip-path="url(#bx)"><g clip-path="url(#oc)">
<rect x="0" y="0" width="203.3" height="364.9" fill="#0050ff"/>
<path d="M3.5 4.8C16.5 -8.2 68.5 -1.2 81.5 4.8C94.5 10.8 82.8 33.1 81.5 40.8C80.2 48.5 73.5 46.8 73.5 50.8C73.5 54.8 78.5 61.8 81.5 64.8C84.5 67.8 90.2 65.8 91.5 68.8C92.8 71.8 104.2 80.5 89.5 82.8C74.8 85.1 17.8 95.8 3.5 82.8C-10.8 69.8 -9.5 17.8 3.5 4.8Z" fill="#0010ff"/>
<path d="M165.5 30.8C168.7 24.1 191.8 12.5 198.5 8.8C205.2 5.1 204.3 -8.9 205.5 8.8C206.7 26.5 206.8 97.1 205.5 114.8C204.2 132.5 199 119.5 197.5 114.8C196 110.1 197.8 95.1 196.5 86.8C195.2 78.5 192.3 71.1 189.5 64.8C186.7 58.5 183.5 54.5 179.5 48.8C175.5 43.1 162.3 37.5 165.5 30.8Z" fill="#0010ff"/>
<path d="M177.5 28.8C179.3 23.1 193.8 15.5 198.5 12.8C203.2 10.1 204.3 3.1 205.5 12.8C206.7 22.5 206.7 61.8 205.5 70.8C204.3 79.8 201.5 70.8 198.5 66.8C195.5 62.8 191 53.1 187.5 46.8C184 40.5 175.7 34.5 177.5 28.8Z" fill="#0050ff"/>
<path d="M60.5 148.8C60.7 146.5 64 143.8 66.5 146.8C69 149.8 73 159.1 75.5 166.8C78 174.5 80.7 186.5 81.5 192.8C82.3 199.1 82.3 202.8 80.5 204.8C78.7 206.8 72.2 206 70.5 204.8C68.8 203.6 69.3 199.5 70.5 197.8C71.7 196.1 77.2 198.6 77.5 194.8C77.8 191 74.5 180.5 72.5 174.8C70.5 169.1 67.5 165.1 65.5 160.8C63.5 156.5 60.3 151.1 60.5 148.8Z" fill="#0010ff"/>
<path d="M89.5 54.8C89.8 48.5 90.8 44.1 93.5 40.8C96.2 37.5 101.8 34.8 105.5 34.8C109.2 34.8 113.2 36.8 115.5 40.8C117.8 44.8 117.2 53.8 119.5 58.8C121.8 63.8 126.5 67.5 129.5 70.8C132.5 74.1 135.5 74.8 137.5 78.8C139.5 82.8 140.2 89.5 141.5 94.8C142.8 100.1 146.2 106.8 145.5 110.8C144.8 114.8 137.5 114.8 137.5 118.8C137.5 122.8 142.8 131.5 145.5 134.8C148.2 138.1 148.8 139.5 153.5 138.8C158.2 138.1 166.8 133.5 173.5 130.8C180.2 128.1 188.2 127.1 193.5 122.8C198.8 118.5 203.5 64.1 205.5 104.8C207.5 145.5 240.8 323.1 205.5 366.8C170.2 410.5 28.8 375.5 -6.5 366.8C-41.8 358.1 -13.2 326.8 -6.5 314.8C0.2 302.8 23.5 302.1 33.5 294.8C43.5 287.5 46.8 280.1 53.5 270.8C60.2 261.5 68.5 248.1 73.5 238.8C78.5 229.5 81.5 222.1 83.5 214.8C85.5 207.5 85.8 201.5 85.5 194.8C85.2 188.1 83.5 181.5 81.5 174.8C79.5 168.1 76.2 162.1 73.5 154.8C70.8 147.5 67.5 137.5 65.5 130.8C63.5 124.1 60.8 120.8 61.5 114.8C62.2 108.8 66.2 99.1 69.5 94.8C72.8 90.5 77.8 91.5 81.5 88.8C85.2 86.1 90.2 84.5 91.5 78.8C92.8 73.1 89.2 61.1 89.5 54.8Z" fill="#009fff"/>
<path d="M85.5 114.8C87.2 107.1 89.5 103.5 93.5 98.8C97.5 94.1 104.8 87.8 109.5 86.8C114.2 85.8 118.5 88.1 121.5 92.8C124.5 97.5 126.2 108.1 127.5 114.8C128.8 121.5 127.2 128.5 129.5 132.8C131.8 137.1 137.2 139.5 141.5 140.8C145.8 142.1 150.2 141.8 155.5 140.8C160.8 139.8 167.8 136.8 173.5 134.8C179.2 132.8 185.3 130.1 189.5 128.8C193.7 127.5 195.8 127.1 198.5 126.8C201.2 126.5 204.3 86.8 205.5 126.8C206.7 166.8 240.8 326.8 205.5 366.8C170.2 406.8 28.8 372.1 -6.5 366.8C-41.8 361.5 -12.5 340.8 -6.5 334.8C-0.5 328.8 23.8 334.1 29.5 330.8C35.2 327.5 24.5 322.1 27.5 314.8C30.5 307.5 41.2 296.8 47.5 286.8C53.8 276.8 59.8 264.8 65.5 254.8C71.2 244.8 77.5 235.8 81.5 226.8C85.5 217.8 89.2 209.5 89.5 200.8C89.8 192.1 84.5 184.1 83.5 174.8C82.5 165.5 83.2 154.8 83.5 144.8C83.8 134.8 83.8 122.5 85.5 114.8Z" fill="#00dfff"/>
<path d="M93.5 178.8C95.5 171.8 98.2 167.5 101.5 162.8C104.8 158.1 109.5 154.1 113.5 150.8C117.5 147.5 122.2 144.1 125.5 142.8C128.8 141.5 131.2 140.8 133.5 142.8C135.8 144.8 136.2 152.8 139.5 154.8C142.8 156.8 149.2 156.5 153.5 154.8C157.8 153.1 161.8 146.5 165.5 144.8C169.2 143.1 173.5 142.5 175.5 144.8C177.5 147.1 175.2 153.8 177.5 158.8C179.8 163.8 186.5 168.8 189.5 174.8C192.5 180.8 192.8 189.8 195.5 194.8C198.2 199.8 203.8 176.1 205.5 204.8C207.2 233.5 235.8 339.8 205.5 366.8C175.2 393.8 53.5 368.8 23.5 366.8C-6.5 364.8 23.2 358.1 25.5 354.8C27.8 351.5 31.5 347.8 37.5 346.8C43.5 345.8 56.2 350.8 61.5 348.8C66.8 346.8 66.8 340.5 69.5 334.8C72.2 329.1 75.5 321.8 77.5 314.8C79.5 307.8 82.2 297.5 81.5 292.8C80.8 288.1 77.5 287.8 73.5 286.8C69.5 285.8 61.5 288.1 57.5 286.8C53.5 285.5 48.2 284.1 49.5 278.8C50.8 273.5 60.2 263.5 65.5 254.8C70.8 246.1 77.5 235.1 81.5 226.8C85.5 218.5 87.5 212.8 89.5 204.8C91.5 196.8 91.5 185.8 93.5 178.8Z" fill="#20ffdf"/>
<path d="M198.5 214.8C201.2 211.1 204.3 206.8 205.5 210.8C206.7 214.8 207.5 232.1 205.5 238.8C203.5 245.5 197.5 247.5 193.5 250.8C189.5 254.1 185.2 258.1 181.5 258.8C177.8 259.5 171.5 257.5 171.5 254.8C171.5 252.1 178.5 246.5 181.5 242.8C184.5 239.1 186.7 237.5 189.5 232.8C192.3 228.1 195.8 218.5 198.5 214.8Z" fill="#00dfff"/>
<path d="M57.5 274.8C57.5 270.5 61.5 265.5 65.5 258.8C69.5 252.1 76.8 242.8 81.5 234.8C86.2 226.8 89.5 217.5 93.5 210.8C97.5 204.1 100.8 197.8 105.5 194.8C110.2 191.8 116.2 191.8 121.5 192.8C126.8 193.8 132.2 197.5 137.5 200.8C142.8 204.1 149.2 208.8 153.5 212.8C157.8 216.8 162.2 220.5 163.5 224.8C164.8 229.1 163.2 233.8 161.5 238.8C159.8 243.8 156.2 249.8 153.5 254.8C150.8 259.8 145.8 264.1 145.5 268.8C145.2 273.5 149.2 278.5 151.5 282.8C153.8 287.1 158.5 289.5 159.5 294.8C160.5 300.1 159.8 308.8 157.5 314.8C155.2 320.8 150.2 326.5 145.5 330.8C140.8 335.1 136.2 338.1 129.5 340.8C122.8 343.5 113.5 346.1 105.5 346.8C97.5 347.5 85.2 347.5 81.5 344.8C77.8 342.1 81.8 335.8 83.5 330.8C85.2 325.8 89.8 320.1 91.5 314.8C93.2 309.5 95.2 303.1 93.5 298.8C91.8 294.5 86.2 291.1 81.5 288.8C76.8 286.5 69.5 287.1 65.5 284.8C61.5 282.5 57.5 279.1 57.5 274.8Z" fill="#60ff9f"/>
<path d="M93.5 298.8C95.2 296.1 100.8 292.5 105.5 290.8C110.2 289.1 116.8 289.5 121.5 288.8C126.2 288.1 131.2 285.8 133.5 286.8C135.8 287.8 136.8 292.5 135.5 294.8C134.2 297.1 129.8 299.1 125.5 300.8C121.2 302.5 114.5 303.8 109.5 304.8C104.5 305.8 98.2 307.8 95.5 306.8C92.8 305.8 91.8 301.5 93.5 298.8Z" fill="#20ffdf"/>
<path d="M-6.5 334.8C-5.5 331.8 12.8 320.1 19.5 314.8C26.2 309.5 29.8 303.1 33.5 302.8C37.2 302.5 41.5 309.5 41.5 312.8C41.5 316.1 35.5 319.8 33.5 322.8C31.5 325.8 32.8 329.1 29.5 330.8C26.2 332.5 19.5 332.1 13.5 332.8C7.5 333.5 -7.5 337.8 -6.5 334.8Z" fill="#009fff"/>
</g><use href="#isl"/></g>
<use href="#fr"/>
</g>
<text transform="translate(597.35 569) scale(1.075 1.0)" font-size="47.3" text-anchor="middle" fill="#000">July</text>
<g transform="translate(864.2 589.2)">
<g clip-path="url(#bx)"><g clip-path="url(#oc)">
<rect x="0" y="0" width="203.3" height="364.9" fill="#0050ff"/>
<path d="M3.8 4.8C16.8 -8.2 68.8 -1.2 81.8 4.8C94.8 10.8 83.1 33.1 81.8 40.8C80.5 48.5 73.8 46.8 73.8 50.8C73.8 54.8 78.8 61.8 81.8 64.8C84.8 67.8 90.5 65.8 91.8 68.8C93.1 71.8 104.5 80.5 89.8 82.8C75.1 85.1 18.1 95.8 3.8 82.8C-10.5 69.8 -9.2 17.8 3.8 4.8Z" fill="#0010ff"/>
<path d="M35.8 46.8C35.5 43.1 37.5 38.1 39.8 34.8C42.1 31.5 46.1 29.5 49.8 26.8C53.5 24.1 58.8 20.8 61.8 18.8C64.8 16.8 66.1 14.8 67.8 14.8C69.5 14.8 72.1 16.1 71.8 18.8C71.5 21.5 67.5 26.8 65.8 30.8C64.1 34.8 63.8 38.8 61.8 42.8C59.8 46.8 57.1 52.5 53.8 54.8C50.5 57.1 44.8 58.1 41.8 56.8C38.8 55.5 36.1 50.5 35.8 46.8Z" fill="#0050ff"/>
<path d="M165.8 30.8C169 24.1 192.1 12.5 198.8 8.8C205.5 5.1 204.6 -8.9 205.8 8.8C207 26.5 207.1 97.1 205.8 114.8C204.5 132.5 199.3 119.5 197.8 114.8C196.3 110.1 198.1 95.1 196.8 86.8C195.5 78.5 192.6 71.1 189.8 64.8C187 58.5 183.8 54.5 179.8 48.8C175.8 43.1 162.6 37.5 165.8 30.8Z" fill="#0010ff"/>
<path d="M173.8 30.8C175.3 23.6 193.5 15 198.8 11.8C204.1 8.6 204.6 0.6 205.8 11.8C207 23 207 68.3 205.8 78.8C204.6 89.3 201.5 78.8 198.8 74.8C196.1 70.8 194 62.1 189.8 54.8C185.6 47.5 172.3 38 173.8 30.8Z" fill="#0050ff"/>
<path d="M60.8 148.8C61 146.5 64.3 143.8 66.8 146.8C69.3 149.8 73.3 159.1 75.8 166.8C78.3 174.5 81 186.5 81.8 192.8C82.6 199.1 82.6 202.8 80.8 204.8C79 206.8 72.5 206 70.8 204.8C69.1 203.6 69.6 199.5 70.8 197.8C72 196.1 77.5 198.6 77.8 194.8C78.1 191 74.8 180.5 72.8 174.8C70.8 169.1 67.8 165.1 65.8 160.8C63.8 156.5 60.6 151.1 60.8 148.8Z" fill="#0010ff"/>
<path d="M91.8 54.8C92.1 49.1 91.5 43.8 93.8 40.8C96.1 37.8 102.5 36.5 105.8 36.8C109.1 37.1 111.8 39.1 113.8 42.8C115.8 46.5 115.5 54.1 117.8 58.8C120.1 63.5 124.8 67.5 127.8 70.8C130.8 74.1 133.8 74.8 135.8 78.8C137.8 82.8 138.5 89.5 139.8 94.8C141.1 100.1 144.1 106.8 143.8 110.8C143.5 114.8 137.5 114.8 137.8 118.8C138.1 122.8 143.1 131.5 145.8 134.8C148.5 138.1 149.1 139.5 153.8 138.8C158.5 138.1 167.1 133.5 173.8 130.8C180.5 128.1 188.5 127.1 193.8 122.8C199.1 118.5 203.8 64.1 205.8 104.8C207.8 145.5 241.1 323.1 205.8 366.8C170.5 410.5 29.1 373.8 -6.2 366.8C-41.5 359.8 -12.9 336.8 -6.2 324.8C0.5 312.8 23.8 303.8 33.8 294.8C43.8 285.8 47.1 280.1 53.8 270.8C60.5 261.5 68.8 248.1 73.8 238.8C78.8 229.5 82.1 222.1 83.8 214.8C85.5 207.5 84.8 201.5 83.8 194.8C82.8 188.1 80.1 181.5 77.8 174.8C75.5 168.1 72.5 161.5 69.8 154.8C67.1 148.1 63.8 141.5 61.8 134.8C59.8 128.1 57.1 121.1 57.8 114.8C58.5 108.5 61.8 101.1 65.8 96.8C69.8 92.5 77.5 92.5 81.8 88.8C86.1 85.1 90.1 80.5 91.8 74.8C93.5 69.1 91.5 60.5 91.8 54.8Z" fill="#009fff"/>
<path d="M77.8 118.8C78.8 111.8 81.8 108.8 85.8 102.8C89.8 96.8 97.5 86.1 101.8 82.8C106.1 79.5 108.5 80.8 111.8 82.8C115.1 84.8 119.1 89.5 121.8 94.8C124.5 100.1 126.5 109.5 127.8 114.8C129.1 120.1 127.5 122.8 129.8 126.8C132.1 130.8 137.5 136.8 141.8 138.8C146.1 140.8 150.5 140.1 155.8 138.8C161.1 137.5 168.1 133.1 173.8 130.8C179.5 128.5 184.5 127.5 189.8 124.8C195.1 122.1 203.1 74.5 205.8 114.8C208.5 155.1 241.1 324.8 205.8 366.8C170.5 408.8 29.1 372.8 -6.2 366.8C-41.5 360.8 -10.5 339.5 -6.2 330.8C-1.9 322.1 12.5 320.1 19.8 314.8C27.1 309.5 32.8 304.8 37.8 298.8C42.8 292.8 45.1 286.1 49.8 278.8C54.5 271.5 60.8 263.1 65.8 254.8C70.8 246.5 76.5 237.8 79.8 228.8C83.1 219.8 85.8 209.8 85.8 200.8C85.8 191.8 80.8 184.1 79.8 174.8C78.8 165.5 80.1 154.1 79.8 144.8C79.5 135.5 76.8 125.8 77.8 118.8Z" fill="#00dfff"/>
<path d="M93.8 154.8C95.8 148.5 98.5 141.1 101.8 136.8C105.1 132.5 109.5 129.5 113.8 128.8C118.1 128.1 123.8 131.1 127.8 132.8C131.8 134.5 135.5 136.1 137.8 138.8C140.1 141.5 139.1 146.8 141.8 148.8C144.5 150.8 149.8 153.1 153.8 150.8C157.8 148.5 161.8 138.1 165.8 134.8C169.8 131.5 174.8 129.8 177.8 130.8C180.8 131.8 183.1 136.8 183.8 140.8C184.5 144.8 180.8 149.8 181.8 154.8C182.8 159.8 187.8 164.1 189.8 170.8C191.8 177.5 192.3 187.5 193.8 194.8C195.3 202.1 196.8 210.8 198.8 214.8C200.8 218.8 204.6 193.5 205.8 218.8C207 244.1 239.1 342.1 205.8 366.8C172.5 391.5 38.5 369.8 5.8 366.8C-26.9 363.8 7.1 353.5 9.8 348.8C12.5 344.1 17.1 341.1 21.8 338.8C26.5 336.5 33.8 333.5 37.8 334.8C41.8 336.1 42.5 343.8 45.8 346.8C49.1 349.8 54.5 354.8 57.8 352.8C61.1 350.8 63.1 341.1 65.8 334.8C68.5 328.5 71.1 321.5 73.8 314.8C76.5 308.1 81.8 299.5 81.8 294.8C81.8 290.1 77.8 287.8 73.8 286.8C69.8 285.8 62.1 289.8 57.8 288.8C53.5 287.8 46.5 286.5 47.8 280.8C49.1 275.1 60.1 263.5 65.8 254.8C71.5 246.1 77.5 237.8 81.8 228.8C86.1 219.8 90.5 209.8 91.8 200.8C93.1 191.8 89.5 182.5 89.8 174.8C90.1 167.1 91.8 161.1 93.8 154.8Z" fill="#20ffdf"/>
<path d="M61.8 272.8C62.5 267.1 69.8 258.5 73.8 250.8C77.8 243.1 81.8 235.5 85.8 226.8C89.8 218.1 94.5 206.1 97.8 198.8C101.1 191.5 101.1 188.1 105.8 182.8C110.5 177.5 119.1 170.5 125.8 166.8C132.5 163.1 139.1 162.8 145.8 160.8C152.5 158.8 161.5 154.5 165.8 154.8C170.1 155.1 170.5 158.8 171.8 162.8C173.1 166.8 171.8 173.1 173.8 178.8C175.8 184.5 181.8 190.8 183.8 196.8C185.8 202.8 186.5 207.8 185.8 214.8C185.1 221.8 181.8 232.1 179.8 238.8C177.8 245.5 172.8 252.1 173.8 254.8C174.8 257.5 182.5 254.8 185.8 254.8C189.1 254.8 192 251.5 193.8 254.8C195.6 258.1 196.8 264.8 196.8 274.8C196.8 284.8 194.5 299.5 193.8 314.8C193.1 330.1 218.8 358.1 192.8 366.8C166.8 375.5 61 368.8 37.8 366.8C14.6 364.8 49.1 357.5 53.8 354.8C58.5 352.1 62.5 354.8 65.8 350.8C69.1 346.8 71.1 338.5 73.8 330.8C76.5 323.1 80.5 311.1 81.8 304.8C83.1 298.5 83.8 296.1 81.8 292.8C79.8 289.5 73.1 288.1 69.8 284.8C66.5 281.5 61.1 278.5 61.8 272.8Z" fill="#60ff9f"/>
<path d="M101.8 252.8C101.5 249.1 105.8 243.5 109.8 238.8C113.8 234.1 120.5 227.5 125.8 224.8C131.1 222.1 138.3 221.1 141.8 222.8C145.3 224.5 146.1 229.5 146.8 234.8C147.5 240.1 147.3 249.1 145.8 254.8C144.3 260.5 141.8 266.5 137.8 268.8C133.8 271.1 126.1 270.1 121.8 268.8C117.5 267.5 115.1 263.5 111.8 260.8C108.5 258.1 102.1 256.5 101.8 252.8Z" fill="#afff50"/>
<path d="M79.8 344.8C80.8 341.1 84.8 335.1 89.8 330.8C94.8 326.5 103.8 322.8 109.8 318.8C115.8 314.8 120.8 311.1 125.8 306.8C130.8 302.5 135.5 296 139.8 292.8C144.1 289.6 148.8 287.5 151.8 287.8C154.8 288.1 158.1 291 157.8 294.8C157.5 298.6 153.8 305.5 149.8 310.8C145.8 316.1 139.8 321.8 133.8 326.8C127.8 331.8 119.8 336.8 113.8 340.8C107.8 344.8 102.8 348.8 97.8 350.8C92.8 352.8 86.8 353.8 83.8 352.8C80.8 351.8 78.8 348.5 79.8 344.8Z" fill="#afff50"/>
</g><use href="#isl"/></g>
<use href="#fr"/>
</g>
<text transform="translate(965.55 569) scale(1.075 1.0)" font-size="47.3" text-anchor="middle" fill="#000">August</text>
<g transform="translate(116.0 1122.7)">
<g clip-path="url(#bx)"><g clip-path="url(#oc)">
<rect x="0" y="0" width="203.3" height="364.9" fill="#0050ff"/>
<path d="M13 48.3C12.3 46.3 15.7 42.2 18 41.9C20.3 41.6 26.3 44.3 27 46.3C27.7 48.3 24.3 53.6 22 53.9C19.7 54.2 13.7 50.3 13 48.3Z" fill="#0010ff"/>
<path d="M61 148.3C61.2 146 64.5 143.3 67 146.3C69.5 149.3 73.5 158.6 76 166.3C78.5 174 81.2 186 82 192.3C82.8 198.6 82.8 202.3 81 204.3C79.2 206.3 72.7 205.5 71 204.3C69.3 203.1 69.8 199 71 197.3C72.2 195.6 77.7 198.1 78 194.3C78.3 190.5 75 180 73 174.3C71 168.6 68 164.6 66 160.3C64 156 60.8 150.6 61 148.3Z" fill="#0010ff"/>
<path d="M84 58.3C83 54 85 50.6 88 48.3C91 46 98 43.6 102 44.3C106 45 109.3 49.3 112 52.3C114.7 55.3 115.3 58.6 118 62.3C120.7 66 125 71 128 74.3C131 77.6 134 78.3 136 82.3C138 86.3 138.7 93.6 140 98.3C141.3 103 144.3 107 144 110.3C143.7 113.6 137.7 114.3 138 118.3C138.3 122.3 143.3 131 146 134.3C148.7 137.6 149.3 139 154 138.3C158.7 137.6 167.3 133 174 130.3C180.7 127.6 188.7 126.6 194 122.3C199.3 118 204 63.6 206 104.3C208 145 241.3 322.6 206 366.3C170.7 410 29.3 373.3 -6 366.3C-41.3 359.3 -12.7 336.3 -6 324.3C0.7 312.3 24 303.3 34 294.3C44 285.3 47.3 279.6 54 270.3C60.7 261 69 247.6 74 238.3C79 229 82.3 221.6 84 214.3C85.7 207 85 201 84 194.3C83 187.6 80.3 180 78 174.3C75.7 168.6 72.7 165.3 70 160.3C67.3 155.3 64.7 149.3 62 144.3C59.3 139.3 56.3 134.6 54 130.3C51.7 126 47.3 122.3 48 118.3C48.7 114.3 54.3 110 58 106.3C61.7 102.6 65.3 99.3 70 96.3C74.7 93.3 82 92 86 88.3C90 84.6 94.3 79.3 94 74.3C93.7 69.3 85 62.6 84 58.3Z" fill="#009fff"/>
<path d="M76 126.3C76.7 120.3 79 118 82 114.3C85 110.6 89.7 106.6 94 104.3C98.3 102 103.7 99.3 108 100.3C112.3 101.3 117 106.6 120 110.3C123 114 123.7 118.3 126 122.3C128.3 126.3 130.7 131.3 134 134.3C137.3 137.3 142.3 139.3 146 140.3C149.7 141.3 151.3 141.6 156 140.3C160.7 139 168.3 134.6 174 132.3C179.7 130 184.7 129.3 190 126.3C195.3 123.3 203.3 74.3 206 114.3C208.7 154.3 241.3 324.3 206 366.3C170.7 408.3 29.3 372.3 -6 366.3C-41.3 360.3 -10.3 339 -6 330.3C-1.7 321.6 12.7 319.6 20 314.3C27.3 309 33 304.3 38 298.3C43 292.3 45.3 285.6 50 278.3C54.7 271 61 262.6 66 254.3C71 246 76.7 237.3 80 228.3C83.3 219.3 86 209.3 86 200.3C86 191.3 81.3 182.6 80 174.3C78.7 166 78.7 158.3 78 150.3C77.3 142.3 75.3 132.3 76 126.3Z" fill="#00dfff"/>
<path d="M90 164.3C91.3 158.3 91.3 152.6 94 148.3C96.7 144 100.7 140.3 106 138.3C111.3 136.3 120.3 136 126 136.3C131.7 136.6 136.7 138 140 140.3C143.3 142.6 143 149.3 146 150.3C149 151.3 154 148 158 146.3C162 144.6 166.3 141.3 170 140.3C173.7 139.3 178 138.6 180 140.3C182 142 180.3 146.6 182 150.3C183.7 154 188 158.3 190 162.3C192 166.3 191.3 170.6 194 174.3C196.7 178 204 152.3 206 184.3C208 216.3 241.3 336 206 366.3C170.7 396.6 29.3 372 -6 366.3C-41.3 360.6 -9.3 340.3 -6 332.3C-2.7 324.3 7.3 324 14 318.3C20.7 312.6 28.3 304.3 34 298.3C39.7 292.3 43.3 289 48 282.3C52.7 275.6 57 266.6 62 258.3C67 250 73.7 241.3 78 232.3C82.3 223.3 86.7 212.3 88 204.3C89.3 196.3 85.7 191 86 184.3C86.3 177.6 88.7 170.3 90 164.3Z" fill="#20ffdf"/>
<path d="M94 194.3C96.7 186.3 96.7 183 100 178.3C103.3 173.6 108.3 169.3 114 166.3C119.7 163.3 127.3 162 134 160.3C140.7 158.6 148 158.6 154 156.3C160 154 166 147.3 170 146.3C174 145.3 176.3 147 178 150.3C179.7 153.6 179 160.6 180 166.3C181 172 182 178 184 184.3C186 190.6 190.3 197.6 192 204.3C193.7 211 194.3 217.6 194 224.3C193.7 231 189.2 239.3 190 244.3C190.8 249.3 196.3 252 199 254.3C201.7 256.6 204.8 239.6 206 258.3C207.2 277 237 348.3 206 366.3C175 384.3 48 368.3 20 366.3C-8 364.3 31.7 356.6 38 354.3C44.3 352 57.3 355.6 58 352.3C58.7 349 46.7 339 42 334.3C37.3 329.6 33.7 325.6 30 324.3C26.3 323 21.3 328 20 326.3C18.7 324.6 19 319 22 314.3C25 309.6 32.7 304.3 38 298.3C43.3 292.3 48.7 285.6 54 278.3C59.3 271 65 263 70 254.3C75 245.6 80 236.3 84 226.3C88 216.3 91.3 202.3 94 194.3Z" fill="#60ff9f"/>
<path d="M66 286.3C66 283 70 275.6 74 268.3C78 261 84.7 251.3 90 242.3C95.3 233.3 100 222 106 214.3C112 206.6 119.3 201.3 126 196.3C132.7 191.3 140 185.6 146 184.3C152 183 157.7 185.6 162 188.3C166.3 191 170 194.3 172 200.3C174 206.3 174.3 216.6 174 224.3C173.7 232 171.7 239.6 170 246.3C168.3 253 164.7 258.6 164 264.3C163.3 270 163.7 275.3 166 280.3C168.3 285.3 175 288.6 178 294.3C181 300 183 307.6 184 314.3C185 321 185 327.6 184 334.3C183 341 179.3 349 178 354.3C176.7 359.6 196.7 364.3 176 366.3C155.3 368.3 72.3 369 54 366.3C35.7 363.6 62.7 356.3 66 350.3C69.3 344.3 71.3 338 74 330.3C76.7 322.6 80.7 310.6 82 304.3C83.3 298 83.3 295 82 292.3C80.7 289.6 76.7 289.3 74 288.3C71.3 287.3 66 289.6 66 286.3Z" fill="#afff50"/>
<path d="M34 312.3C34.7 310.3 38.7 305.6 42 302.3C45.3 299 51.3 293.6 54 292.3C56.7 291 59 292 58 294.3C57 296.6 51.3 303 48 306.3C44.7 309.6 40.3 313.3 38 314.3C35.7 315.3 33.3 314.3 34 312.3Z" fill="#afff50"/>
<path d="M104 274.3C103.3 270 106.7 265.3 110 262.3C113.3 259.3 119.3 257 124 256.3C128.7 255.6 134.8 256 138 258.3C141.2 260.6 142 265 143 270.3C144 275.6 143.8 284.6 144 290.3C144.2 296 145 301.3 144 304.3C143 307.3 139.3 310 138 308.3C136.7 306.6 137.3 298.6 136 294.3C134.7 290 132.3 282.6 130 282.3C127.7 282 124.7 291.3 122 292.3C119.3 293.3 117 291.3 114 288.3C111 285.3 104.7 278.6 104 274.3Z" fill="#efff10"/>
<path d="M40 328.3C40.3 325.6 43 325 44 326.3C45 327.6 44.7 333.3 46 336.3C47.3 339.3 50 342 52 344.3C54 346.6 57.7 349 58 350.3C58.3 351.6 56.7 353.6 54 352.3C51.3 351 44.3 346.3 42 342.3C39.7 338.3 39.7 331 40 328.3Z" fill="#00dfff"/>
</g><use href="#isl"/></g>
<use href="#fr"/>
</g>
<text transform="translate(217.35 1102.5) scale(1.075 1.0)" font-size="47.3" text-anchor="middle" fill="#000">September</text>
<text transform="translate(4.6 1148.8) scale(1.0 1.05)" font-size="43.5" text-anchor="start" fill="#000">41</text><text transform="translate(52.6 1129.05) scale(1.06 1.0)" font-size="36" text-anchor="start" fill="#000">o</text><text transform="translate(73.8 1148.8) scale(1.0 1.05)" font-size="43.5" text-anchor="start" fill="#000">N</text>
<text transform="translate(4.6 1246.1) scale(1.0 1.05)" font-size="43.5" text-anchor="start" fill="#000">36</text><text transform="translate(52.6 1226.35) scale(1.06 1.0)" font-size="36" text-anchor="start" fill="#000">o</text><text transform="translate(73.8 1246.1) scale(1.0 1.05)" font-size="43.5" text-anchor="start" fill="#000">N</text>
<text transform="translate(4.6 1339.7) scale(1.0 1.05)" font-size="43.5" text-anchor="start" fill="#000">31</text><text transform="translate(52.6 1319.95) scale(1.06 1.0)" font-size="36" text-anchor="start" fill="#000">o</text><text transform="translate(73.8 1339.7) scale(1.0 1.05)" font-size="43.5" text-anchor="start" fill="#000">N</text>
<text transform="translate(4.6 1424.4) scale(1.0 1.05)" font-size="43.5" text-anchor="start" fill="#000">26</text><text transform="translate(52.6 1404.65) scale(1.06 1.0)" font-size="36" text-anchor="start" fill="#000">o</text><text transform="translate(73.8 1424.4) scale(1.0 1.05)" font-size="43.5" text-anchor="start" fill="#000">N</text>
<text transform="translate(4.6 1509.4) scale(1.0 1.05)" font-size="43.5" text-anchor="start" fill="#000">21</text><text transform="translate(52.6 1489.65) scale(1.06 1.0)" font-size="36" text-anchor="start" fill="#000">o</text><text transform="translate(73.8 1509.4) scale(1.0 1.05)" font-size="43.5" text-anchor="start" fill="#000">N</text>
<g transform="translate(497.5 1122.7)">
<g clip-path="url(#bx)"><g clip-path="url(#oc)">
<rect x="0" y="0" width="203.3" height="364.9" fill="#009fff"/>
<path d="M12.5 48.3C11.8 46.3 14.8 42.2 17.5 41.9C20.2 41.6 27.8 44.3 28.5 46.3C29.2 48.3 24.2 53.6 21.5 53.9C18.8 54.2 13.2 50.3 12.5 48.3Z" fill="#0050ff"/>
<path d="M39.5 118.3C40.8 111.3 54.5 97.6 61.5 92.3C68.5 87 80.8 84.3 81.5 86.3C82.2 88.3 70.2 98.6 65.5 104.3C60.8 110 54.2 114.6 53.5 120.3C52.8 126 58.2 132.6 61.5 138.3C64.8 144 70.2 148.3 73.5 154.3C76.8 160.3 79.5 167.6 81.5 174.3C83.5 181 85.5 189 85.5 194.3C85.5 199.6 84.2 204.6 81.5 206.3C78.8 208 70.8 208 69.5 204.3C68.2 200.6 74.2 191.6 73.5 184.3C72.8 177 68.8 168.6 65.5 160.3C62.2 152 57.8 141.3 53.5 134.3C49.2 127.3 38.2 125.3 39.5 118.3Z" fill="#0050ff"/>
<path d="M165.5 30.3C168.7 23.6 191.8 12 198.5 8.3C205.2 4.6 204.3 -9.4 205.5 8.3C206.7 26 206.8 96.6 205.5 114.3C204.2 132 199 119 197.5 114.3C196 109.6 197.8 94.6 196.5 86.3C195.2 78 192.3 70.6 189.5 64.3C186.7 58 183.5 54 179.5 48.3C175.5 42.6 162.3 37 165.5 30.3Z" fill="#0050ff"/>
<path d="M173.5 30.3C176 25.5 193.2 14.5 198.5 11.3C203.8 8.1 204.3 3.5 205.5 11.3C206.7 19.1 206.7 50.8 205.5 58.3C204.3 65.8 202.2 59.3 198.5 56.3C194.8 53.3 187.7 44.6 183.5 40.3C179.3 36 171 35.1 173.5 30.3Z" fill="#009fff"/>
<path d="M134.5 68.3C135.3 67 141 68.3 142.5 70.3C144 72.3 144.3 79 143.5 80.3C142.7 81.6 139 80.3 137.5 78.3C136 76.3 133.7 69.6 134.5 68.3Z" fill="#0050ff"/>
<path d="M83.5 130.3C85.2 124.3 87.5 120 91.5 114.3C95.5 108.6 103.2 97.3 107.5 96.3C111.8 95.3 114.5 104 117.5 108.3C120.5 112.6 122.8 118 125.5 122.3C128.2 126.6 130.2 131.3 133.5 134.3C136.8 137.3 141.8 139.3 145.5 140.3C149.2 141.3 150.8 141.6 155.5 140.3C160.2 139 167.8 134.6 173.5 132.3C179.2 130 184.2 129.3 189.5 126.3C194.8 123.3 202.8 74.3 205.5 114.3C208.2 154.3 240.8 324.3 205.5 366.3C170.2 408.3 28.8 372.3 -6.5 366.3C-41.8 360.3 -10.8 339 -6.5 330.3C-2.2 321.6 12.2 319.6 19.5 314.3C26.8 309 32.5 304.3 37.5 298.3C42.5 292.3 44.8 285.6 49.5 278.3C54.2 271 60.5 262.6 65.5 254.3C70.5 246 76.2 237.3 79.5 228.3C82.8 219.3 85.2 209.3 85.5 200.3C85.8 191.3 82.2 182.6 81.5 174.3C80.8 166 81.2 157.6 81.5 150.3C81.8 143 81.8 136.3 83.5 130.3Z" fill="#00dfff"/>
<path d="M93.5 178.3C95.5 171.3 97.5 168.6 101.5 164.3C105.5 160 112.2 155 117.5 152.3C122.8 149.6 129.5 148 133.5 148.3C137.5 148.6 139.2 152.3 141.5 154.3C143.8 156.3 145.2 160.3 147.5 160.3C149.8 160.3 152.8 156.6 155.5 154.3C158.2 152 160.5 148 163.5 146.3C166.5 144.6 170.5 143.6 173.5 144.3C176.5 145 179.5 146.6 181.5 150.3C183.5 154 183.8 162.3 185.5 166.3C187.2 170.3 190.2 169.6 191.5 174.3C192.8 179 192.8 186 193.5 194.3C194.2 202.6 196.5 216.6 195.5 224.3C194.5 232 187 235.3 187.5 240.3C188 245.3 195.5 252 198.5 254.3C201.5 256.6 204.3 235.6 205.5 254.3C206.7 273 240.8 347.6 205.5 366.3C170.2 385 28.8 372 -6.5 366.3C-41.8 360.6 -9.8 340.3 -6.5 332.3C-3.2 324.3 6.8 324 13.5 318.3C20.2 312.6 27.8 304.3 33.5 298.3C39.2 292.3 42.8 289 47.5 282.3C52.2 275.6 56.5 266.6 61.5 258.3C66.5 250 72.8 241 77.5 232.3C82.2 223.6 86.8 215.3 89.5 206.3C92.2 197.3 91.5 185.3 93.5 178.3Z" fill="#20ffdf"/>
<path d="M99.5 210.3C104.5 203.6 107.2 198.6 111.5 194.3C115.8 190 121.2 187.3 125.5 184.3C129.8 181.3 132.8 177.6 137.5 176.3C142.2 175 148.8 175.6 153.5 176.3C158.2 177 161.8 177.6 165.5 180.3C169.2 183 172.5 187.6 175.5 192.3C178.5 197 181.8 202.6 183.5 208.3C185.2 214 185.5 220.6 185.5 226.3C185.5 232 184.5 237.6 183.5 242.3C182.5 247 178.8 250.6 179.5 254.3C180.2 258 185.2 259.6 187.5 264.3C189.8 269 192.2 274 193.5 282.3C194.8 290.6 195.8 305.6 195.5 314.3C195.2 323 192.5 325.6 191.5 334.3C190.5 343 222.5 361 189.5 366.3C156.5 371.6 26.2 371.6 -6.5 366.3C-39.2 361 -9.8 342.3 -6.5 334.3C-3.2 326.3 6.8 324.3 13.5 318.3C20.2 312.3 27.5 304.6 33.5 298.3C39.5 292 44.2 287 49.5 280.3C54.8 273.6 60.2 266 65.5 258.3C70.8 250.6 75.8 242.3 81.5 234.3C87.2 226.3 94.5 217 99.5 210.3Z" fill="#60ff9f"/>
<path d="M49.5 280.3C54.8 274.3 60.2 267.6 65.5 262.3C70.8 257 75.5 252.6 81.5 248.3C87.5 244 94.5 240 101.5 236.3C108.5 232.6 116.8 228 123.5 226.3C130.2 224.6 136.2 224.6 141.5 226.3C146.8 228 152.5 232 155.5 236.3C158.5 240.6 159.2 246.6 159.5 252.3C159.8 258 156.8 265 157.5 270.3C158.2 275.6 160.8 279.6 163.5 284.3C166.2 289 170.2 292.6 173.5 298.3C176.8 304 181.2 312.3 183.5 318.3C185.8 324.3 186.5 328.3 187.5 334.3C188.5 340.3 189.5 349 189.5 354.3C189.5 359.6 220.2 364.3 187.5 366.3C154.8 368.3 25.8 371.6 -6.5 366.3C-38.8 361 -9.8 342.3 -6.5 334.3C-3.2 326.3 6.8 324.3 13.5 318.3C20.2 312.3 27.5 304.6 33.5 298.3C39.5 292 44.2 286.3 49.5 280.3Z" fill="#afff50"/>
<path d="M47.5 282.3C51.5 278 52.5 275 57.5 272.3C62.5 269.6 70.8 267.6 77.5 266.3C84.2 265 91.5 264 97.5 264.3C103.5 264.6 108.8 266.3 113.5 268.3C118.2 270.3 123.2 273.3 125.5 276.3C127.8 279.3 127.8 283.3 127.5 286.3C127.2 289.3 122.5 291.6 123.5 294.3C124.5 297 129.8 298.3 133.5 302.3C137.2 306.3 142.2 313 145.5 318.3C148.8 323.6 151.2 329 153.5 334.3C155.8 339.6 158.5 345 159.5 350.3C160.5 355.6 187.2 363.6 159.5 366.3C131.8 369 21.2 371.6 -6.5 366.3C-34.2 361 -9.8 342.3 -6.5 334.3C-3.2 326.3 6.8 324.3 13.5 318.3C20.2 312.3 27.8 304.3 33.5 298.3C39.2 292.3 43.5 286.6 47.5 282.3Z" fill="#efff10"/>
<path d="M101.5 310.3C103.2 308.3 111.8 307 113.5 308.3C115.2 309.6 112.5 315.3 111.5 318.3C110.5 321.3 108.8 326 107.5 326.3C106.2 326.6 104.5 323 103.5 320.3C102.5 317.6 99.8 312.3 101.5 310.3Z" fill="#afff50"/>
<path d="M123.5 304.3C124.8 302.6 132.2 301 133.5 302.3C134.8 303.6 132.3 310.3 131.5 312.3C130.7 314.3 129.5 314.3 128.5 314.3C127.5 314.3 126.3 314 125.5 312.3C124.7 310.6 122.2 306 123.5 304.3Z" fill="#afff50"/>
<path d="M-6.5 366.3C-10.8 361 -8.8 341.3 -6.5 334.3C-4.2 327.3 2.8 327.6 7.5 324.3C12.2 321 17.2 318.6 21.5 314.3C25.8 310 29.2 303 33.5 298.3C37.8 293.6 42.8 288.6 47.5 286.3C52.2 284 59.5 283 61.5 284.3C63.5 285.6 60.8 291 59.5 294.3C58.2 297.6 55.8 300.3 53.5 304.3C51.2 308.3 48.2 314.6 45.5 318.3C42.8 322 39.5 323.6 37.5 326.3C35.5 329 34.8 331.3 33.5 334.3C32.2 337.3 30.8 341 29.5 344.3C28.2 347.6 27.2 350.6 25.5 354.3C23.8 358 24.8 364.3 19.5 366.3C14.2 368.3 -2.2 371.6 -6.5 366.3Z" fill="#ffcf00"/>
<path d="M49.5 366.3C44.2 364.3 58.2 358.3 61.5 354.3C64.8 350.3 66.8 345.6 69.5 342.3C72.2 339 74.8 334.6 77.5 334.3C80.2 334 83.2 337.6 85.5 340.3C87.8 343 90.2 346 91.5 350.3C92.8 354.6 100.5 363.6 93.5 366.3C86.5 369 54.8 368.3 49.5 366.3Z" fill="#ffcf00"/>
<path d="M21.5 318.3C22.2 314 29.2 305.3 33.5 300.3C37.8 295.3 43.2 290.6 47.5 288.3C51.8 286 57.2 286 59.5 286.3C61.8 286.6 62.5 287.6 61.5 290.3C60.5 293 56.2 298 53.5 302.3C50.8 306.6 48.2 312.6 45.5 316.3C42.8 320 40.2 322.6 37.5 324.3C34.8 326 32.2 327.3 29.5 326.3C26.8 325.3 20.8 322.6 21.5 318.3Z" fill="#ff8f00"/>
<path d="M51.5 366.3C50.2 364.3 58.7 357.3 61.5 354.3C64.3 351.3 67.2 346.3 68.5 348.3C69.8 350.3 72.3 363.3 69.5 366.3C66.7 369.3 52.8 368.3 51.5 366.3Z" fill="#ff8f00"/>
<path d="M25.5 320.3C26.5 317.6 30.5 312 33.5 308.3C36.5 304.6 40.5 300.6 43.5 298.3C46.5 296 50.5 293.3 51.5 294.3C52.5 295.3 51.2 300.6 49.5 304.3C47.8 308 44.2 313 41.5 316.3C38.8 319.6 35.8 323 33.5 324.3C31.2 325.6 28.8 325 27.5 324.3C26.2 323.6 24.5 323 25.5 320.3Z" fill="#ff4000"/>
<path d="M37.5 334.3C37.8 331 41.8 327.6 43.5 328.3C45.2 329 45.8 335.3 47.5 338.3C49.2 341.3 51.8 344.3 53.5 346.3C55.2 348.3 57.8 349.3 57.5 350.3C57.2 351.3 54.2 352.6 51.5 352.3C48.8 352 43.8 351.3 41.5 348.3C39.2 345.3 37.2 337.6 37.5 334.3Z" fill="#afff50"/>
<path d="M43.5 332.3C44 332 45.8 338 47.5 340.3C49.2 342.6 53.2 345 53.5 346.3C53.8 347.6 51 349 49.5 348.3C48 347.6 45.5 345 44.5 342.3C43.5 339.6 43 332.6 43.5 332.3Z" fill="#20ffdf"/>
<path d="M46.5 338.3C47.6 338.6 52.7 343.8 53.5 345.3C54.3 346.8 52.6 347.6 51.5 347.3C50.4 347 47.9 344.8 47.1 343.3C46.3 341.8 45.4 338 46.5 338.3Z" fill="#009fff"/>
</g><use href="#isl"/></g>
<use href="#fr"/>
</g>
<text transform="translate(598.85 1102.5) scale(1.075 1.0)" font-size="47.3" text-anchor="middle" fill="#000">October</text>
<g transform="translate(864.2 1122.7)">
<g clip-path="url(#bx)"><g clip-path="url(#oc)">
<rect x="0" y="0" width="203.3" height="364.9" fill="#00dfff"/>
<path d="M3.8 4.3C16.8 -8.7 68.8 -1.7 81.8 4.3C94.8 10.3 83.1 32.6 81.8 40.3C80.5 48 73.8 46.3 73.8 50.3C73.8 54.3 78.8 61.3 81.8 64.3C84.8 67.3 90.5 65.3 91.8 68.3C93.1 71.3 104.5 80 89.8 82.3C75.1 84.6 18.1 95.3 3.8 82.3C-10.5 69.3 -9.2 17.3 3.8 4.3Z" fill="#009fff"/>
<path d="M37.8 50.3C37.5 47 39.1 42 41.8 38.3C44.5 34.6 49.8 31.6 53.8 28.3C57.8 25 62.8 20 65.8 18.3C68.8 16.6 71.5 16.3 71.8 18.3C72.1 20.3 69.5 26.3 67.8 30.3C66.1 34.3 62.1 38.6 61.8 42.3C61.5 46 63.8 49.6 65.8 52.3C67.8 55 73.8 56.6 73.8 58.3C73.8 60 69.1 62.3 65.8 62.3C62.5 62.3 57.5 59 53.8 58.3C50.1 57.6 46.5 59.6 43.8 58.3C41.1 57 38.1 53.6 37.8 50.3Z" fill="#00dfff"/>
<path d="M12.8 48.3C12.1 46.3 15.1 42.2 17.8 41.9C20.5 41.6 28.1 44.3 28.8 46.3C29.5 48.3 24.5 53.6 21.8 53.9C19.1 54.2 13.5 50.3 12.8 48.3Z" fill="#0050ff"/>
<path d="M65.8 50.3C67.1 47.6 76.5 45.3 81.8 42.3C87.1 39.3 92.5 34.3 97.8 32.3C103.1 30.3 109.1 29.6 113.8 30.3C118.5 31 124.1 33.6 125.8 36.3C127.5 39 125.8 45.6 123.8 46.3C121.8 47 117.5 41.3 113.8 40.3C110.1 39.3 105.8 39 101.8 40.3C97.8 41.6 94.5 45.3 89.8 48.3C85.1 51.3 77.8 58 73.8 58.3C69.8 58.6 64.5 53 65.8 50.3Z" fill="#009fff"/>
<path d="M39.8 118.3C41.1 111.3 54.1 97.6 61.8 92.3C69.5 87 83.8 84.6 85.8 86.3C87.8 88 77.1 97 73.8 102.3C70.5 107.6 65.8 112.3 65.8 118.3C65.8 124.3 71.1 132.3 73.8 138.3C76.5 144.3 79.1 148.3 81.8 154.3C84.5 160.3 87.8 167.6 89.8 174.3C91.8 181 95.1 189 93.8 194.3C92.5 199.6 85.8 204.6 81.8 206.3C77.8 208 71.1 208 69.8 204.3C68.5 200.6 74.5 191.6 73.8 184.3C73.1 177 69.1 168.6 65.8 160.3C62.5 152 58.1 141.3 53.8 134.3C49.5 127.3 38.5 125.3 39.8 118.3Z" fill="#009fff"/>
<path d="M39.8 118.3C41.1 111.3 55.5 97.5 61.8 92.3C68.1 87.1 77.8 85 77.8 87.3C77.8 89.6 66.1 100.8 61.8 106.3C57.5 111.8 51.8 114.6 51.8 120.3C51.8 126 58.5 134.6 61.8 140.3C65.1 146 68.8 148.6 71.8 154.3C74.8 160 77.8 167.6 79.8 174.3C81.8 181 83.5 189.3 83.8 194.3C84.1 199.3 84 202.6 81.8 204.3C79.6 206 72.1 207.6 70.8 204.3C69.5 201 74.6 191.6 73.8 184.3C73 177 69.1 168.6 65.8 160.3C62.5 152 58.1 141.3 53.8 134.3C49.5 127.3 38.5 125.3 39.8 118.3Z" fill="#0050ff"/>
<path d="M61.8 146.3C61.1 142.6 65.5 141.3 67.8 144.3C70.1 147.3 75.1 160.6 75.8 164.3C76.5 168 74.1 169.3 71.8 166.3C69.5 163.3 62.5 150 61.8 146.3Z" fill="#0010ff"/>
<path d="M133.8 68.3C134.8 67 142.1 68.3 143.8 70.3C145.5 72.3 144.8 79 143.8 80.3C142.8 81.6 139.5 80.3 137.8 78.3C136.1 76.3 132.8 69.6 133.8 68.3Z" fill="#009fff"/>
<path d="M139.8 94.3C140.6 92.6 144.8 92.6 145.8 94.3C146.8 96 146.6 102.6 145.8 104.3C145 106 141.8 106 140.8 104.3C139.8 102.6 139 96 139.8 94.3Z" fill="#009fff"/>
<path d="M165.8 30.3C169 23.6 192.1 12 198.8 8.3C205.5 4.6 204.6 -9.4 205.8 8.3C207 26 207.1 96.6 205.8 114.3C204.5 132 199.3 119 197.8 114.3C196.3 109.6 198.1 94.6 196.8 86.3C195.5 78 192.6 70.6 189.8 64.3C187 58 183.8 54 179.8 48.3C175.8 42.6 162.6 37 165.8 30.3Z" fill="#009fff"/>
<path d="M173.8 30.3C176.3 25.5 193.5 14.5 198.8 11.3C204.1 8.1 204.6 3.5 205.8 11.3C207 19.1 207 50.8 205.8 58.3C204.6 65.8 202.5 59.3 198.8 56.3C195.1 53.3 188 44.6 183.8 40.3C179.6 36 171.3 35.1 173.8 30.3Z" fill="#00dfff"/>
<path d="M133.8 132.3C135.1 134.3 141.8 140 145.8 140.3C149.8 140.6 153.1 136.3 157.8 134.3C162.5 132.3 168.5 130.3 173.8 128.3C179.1 126.3 185.6 124.6 189.8 122.3C194 120 197.3 117 198.8 114.3C200.3 111.6 200.3 105.6 198.8 106.3C197.3 107 194 115 189.8 118.3C185.6 121.6 179.5 124 173.8 126.3C168.1 128.6 160.5 130.6 155.8 132.3C151.1 134 148.8 137 145.8 136.3C142.8 135.6 139.8 129 137.8 128.3C135.8 127.6 132.5 130.3 133.8 132.3Z" fill="#009fff"/>
<path d="M99.8 154.3C100.8 144.6 102.1 135.6 103.8 126.3C105.5 117 108.1 103.3 109.8 98.3C111.5 93.3 112.1 94.3 113.8 96.3C115.5 98.3 118.1 104.6 119.8 110.3C121.5 116 122.1 125.3 123.8 130.3C125.5 135.3 127.1 136.6 129.8 140.3C132.5 144 137.1 149 139.8 152.3C142.5 155.6 143.5 158.3 145.8 160.3C148.1 162.3 150.8 164.6 153.8 164.3C156.8 164 161.1 159.6 163.8 158.3C166.5 157 167.8 155 169.8 156.3C171.8 157.6 173.5 162.6 175.8 166.3C178.1 170 180.8 174.3 183.8 178.3C186.8 182.3 190.1 187 193.8 190.3C197.5 193.6 203.8 169 205.8 198.3C207.8 227.6 241.1 338.3 205.8 366.3C170.5 394.3 29.1 372 -6.2 366.3C-41.5 360.6 -9.5 340.3 -6.2 332.3C-2.9 324.3 7.1 324 13.8 318.3C20.5 312.6 28.1 304.3 33.8 298.3C39.5 292.3 43.1 289 47.8 282.3C52.5 275.6 56.8 266.6 61.8 258.3C66.8 250 73.1 239.6 77.8 232.3C82.5 225 86.5 222.3 89.8 214.3C93.1 206.3 96.1 194.3 97.8 184.3C99.5 174.3 98.8 164 99.8 154.3Z" fill="#20ffdf"/>
<path d="M198.8 230.3C202.5 227 204.6 219 205.8 226.3C207 233.6 207.8 267 205.8 274.3C203.8 281.6 197.8 272.3 193.8 270.3C189.8 268.3 185.1 264.3 181.8 262.3C178.5 260.3 173.5 261 173.8 258.3C174.1 255.6 179.6 251 183.8 246.3C188 241.6 195.1 233.6 198.8 230.3Z" fill="#00dfff"/>
<path d="M65.8 258.3C71.5 252 75.8 248.6 81.8 244.3C87.8 240 94.5 235.8 101.8 232.3C109.1 228.8 118.5 225 125.8 223.3C133.1 221.6 140.1 221.5 145.8 222.3C151.5 223.1 156.8 225.6 159.8 228.3C162.8 231 163.5 234 163.8 238.3C164.1 242.6 162.5 249 161.8 254.3C161.1 259.6 159.1 265 159.8 270.3C160.5 275.6 163.1 281.6 165.8 286.3C168.5 291 172.8 293.6 175.8 298.3C178.8 303 181.5 309 183.8 314.3C186.1 319.6 188.3 323.6 189.8 330.3C191.3 337 192.5 348.3 192.8 354.3C193.1 360.3 225 364.3 191.8 366.3C158.6 368.3 26.8 372 -6.2 366.3C-39.2 360.6 -9.5 340.3 -6.2 332.3C-2.9 324.3 7.1 324 13.8 318.3C20.5 312.6 28.1 304.3 33.8 298.3C39.5 292.3 42.5 289 47.8 282.3C53.1 275.6 60.1 264.6 65.8 258.3Z" fill="#60ff9f"/>
<path d="M47.8 282.3C52.1 278 54.8 275.3 59.8 272.3C64.8 269.3 71.5 266 77.8 264.3C84.1 262.6 91.8 262 97.8 262.3C103.8 262.6 109.5 264.3 113.8 266.3C118.1 268.3 121.1 271 123.8 274.3C126.5 277.6 127.5 282.3 129.8 286.3C132.1 290.3 134.5 293.6 137.8 298.3C141.1 303 145.5 309.3 149.8 314.3C154.1 319.3 160.1 324 163.8 328.3C167.5 332.6 169.8 336 171.8 340.3C173.8 344.6 175.1 350 175.8 354.3C176.5 358.6 206.1 364.3 175.8 366.3C145.5 368.3 24.1 372 -6.2 366.3C-36.5 360.6 -9.5 340.3 -6.2 332.3C-2.9 324.3 7.1 324 13.8 318.3C20.5 312.6 28.1 304.3 33.8 298.3C39.5 292.3 43.5 286.6 47.8 282.3Z" fill="#afff50"/>
<path d="M61.8 366.3C49.5 363 63.8 351.6 65.8 346.3C67.8 341 71.1 337.6 73.8 334.3C76.5 331 77.8 327 81.8 326.3C85.8 325.6 92.5 328.6 97.8 330.3C103.1 332 109.1 334 113.8 336.3C118.5 338.6 122.5 341.3 125.8 344.3C129.1 347.3 131.5 350.6 133.8 354.3C136.1 358 151.8 364.3 139.8 366.3C127.8 368.3 74.1 369.6 61.8 366.3Z" fill="#efff10"/>
<path d="M-6.2 366.3C-17.5 360.6 -9.5 340.3 -6.2 332.3C-2.9 324.3 7.1 324 13.8 318.3C20.5 312.6 28.1 303.6 33.8 298.3C39.5 293 43.1 289 47.8 286.3C52.5 283.6 59.1 282.3 61.8 282.3C64.5 282.3 64.5 283.6 63.8 286.3C63.1 289 60.5 293.6 57.8 298.3C55.1 303 50.8 309.6 47.8 314.3C44.8 319 42.1 322.3 39.8 326.3C37.5 330.3 34.8 334.3 33.8 338.3C32.8 342.3 32.1 347.6 33.8 350.3C35.5 353 39.8 353.6 43.8 354.3C47.8 355 54.8 352.3 57.8 354.3C60.8 356.3 72.5 364.3 61.8 366.3C51.1 368.3 5.1 372 -6.2 366.3Z" fill="#efff10"/>
<path d="M-6.2 366.3C-21.9 361 -8.9 341.3 -6.2 334.3C-3.5 327.3 5.1 327.6 9.8 324.3C14.5 321 17.8 318.3 21.8 314.3C25.8 310.3 29.8 304.3 33.8 300.3C37.8 296.3 42.5 291.6 45.8 290.3C49.1 289 53.1 290 53.8 292.3C54.5 294.6 51.8 300.3 49.8 304.3C47.8 308.3 44.5 312.3 41.8 316.3C39.1 320.3 36.1 325.3 33.8 328.3C31.5 331.3 29.8 331.3 27.8 334.3C25.8 337.3 23.1 343 21.8 346.3C20.5 349.6 18.5 352 19.8 354.3C21.1 356.6 25.5 360 29.8 360.3C34.1 360.6 40.5 358 45.8 356.3C51.1 354.6 57.8 352.3 61.8 350.3C65.8 348.3 67.1 344.6 69.8 344.3C72.5 344 75.1 346.3 77.8 348.3C80.5 350.3 84.1 353.3 85.8 356.3C87.5 359.3 103.1 364.6 87.8 366.3C72.5 368 9.5 371.6 -6.2 366.3Z" fill="#ffcf00"/>
<path d="M21.8 318.3C22.5 314.6 28.5 308 31.8 304.3C35.1 300.6 38.8 297.3 41.8 296.3C44.8 295.3 49.5 295.6 49.8 298.3C50.1 301 46.1 308.3 43.8 312.3C41.5 316.3 38.5 320 35.8 322.3C33.1 324.6 30.1 327 27.8 326.3C25.5 325.6 21.1 322 21.8 318.3Z" fill="#ff8f00"/>
<path d="M41.8 366.3C39.5 364.6 49.8 359 53.8 356.3C57.8 353.6 63.1 350 65.8 350.3C68.5 350.6 69.5 355.6 69.8 358.3C70.1 361 72.5 365 67.8 366.3C63.1 367.6 44.1 368 41.8 366.3Z" fill="#ff8f00"/>
<path d="M-6.2 366.3C-8.9 364.3 -8.2 357 -6.2 354.3C-4.2 351.6 2.5 349.6 5.8 350.3C9.1 351 13.1 355.6 13.8 358.3C14.5 361 13.1 365 9.8 366.3C6.5 367.6 -3.5 368.3 -6.2 366.3Z" fill="#ff8f00"/>
<path d="M30.8 314.3C31.1 312.6 34 309.6 35.8 308.3C37.6 307 41.1 305.3 41.8 306.3C42.5 307.3 41.1 312.3 39.8 314.3C38.5 316.3 35.3 318.3 33.8 318.3C32.3 318.3 30.5 316 30.8 314.3Z" fill="#ff4000"/>
<path d="M35.8 332.3C36.6 330 40 326 41.8 326.3C43.6 326.6 44.8 331 46.8 334.3C48.8 337.6 53 343.6 53.8 346.3C54.6 349 53.8 350.3 51.8 350.3C49.8 350.3 44.3 348 41.8 346.3C39.3 344.6 37.8 342.6 36.8 340.3C35.8 338 35 334.6 35.8 332.3Z" fill="#60ff9f"/>
<path d="M41.8 332.3C42.5 332 45 336 46.8 338.3C48.6 340.6 52.6 345 52.8 346.3C53 347.6 49.5 347.3 47.8 346.3C46.1 345.3 43.8 342.6 42.8 340.3C41.8 338 41.1 332.6 41.8 332.3Z" fill="#00dfff"/>
</g><use href="#isl"/></g>
<use href="#fr"/>
</g>
<text transform="translate(964.15 1102.5) scale(1.075 1.0)" font-size="47.3" text-anchor="middle" fill="#000">November</text>
<g transform="translate(116.0 1652.7)">
<g clip-path="url(#bx)"><g clip-path="url(#oc)">
<rect x="0" y="0" width="203.3" height="364.9" fill="#20ffdf"/>
<path d="M4 4.3C16.3 -8.7 65.7 1.3 78 4.3C90.3 7.3 80 17.3 78 22.3C76 27.3 68.7 29.6 66 34.3C63.3 39 64 45.6 62 50.3C60 55 56.3 58.3 54 62.3C51.7 66.3 56.3 71 48 74.3C39.7 77.6 11.3 94 4 82.3C-3.3 70.6 -8.3 17.3 4 4.3Z" fill="#00dfff"/>
<path d="M4 34.3C6.7 27.3 15 39 20 40.3C25 41.6 31 40 34 42.3C37 44.6 36.7 50.6 38 54.3C39.3 58 40.7 61 42 64.3C43.3 67.6 47.3 72 46 74.3C44.7 76.6 41 77 34 78.3C27 79.6 9 89.6 4 82.3C-1 75 1.3 41.3 4 34.3Z" fill="#009fff"/>
<path d="M13 48.3C12.5 46.6 16 43.6 18 43.3C20 43 24.5 45 25 46.7C25.5 48.4 23 53 21 53.3C19 53.6 13.5 50 13 48.3Z" fill="#0050ff"/>
<path d="M74 44.3C75.3 42.3 84.7 40.6 90 38.3C95.3 36 100.7 31.3 106 30.3C111.3 29.3 118.3 30.6 122 32.3C125.7 34 127.7 37.3 128 40.3C128.3 43.3 125.7 50 124 50.3C122.3 50.6 121 44.3 118 42.3C115 40.3 110 38 106 38.3C102 38.6 98 42.3 94 44.3C90 46.3 85.3 50.3 82 50.3C78.7 50.3 72.7 46.3 74 44.3Z" fill="#00dfff"/>
<path d="M40 118.3C41.3 111.3 54.3 97.6 62 92.3C69.7 87 84 84.6 86 86.3C88 88 77.3 97 74 102.3C70.7 107.6 66 112.3 66 118.3C66 124.3 71.3 132.3 74 138.3C76.7 144.3 79.7 148.3 82 154.3C84.3 160.3 86.3 167.6 88 174.3C89.7 181 93 189 92 194.3C91 199.6 85.7 204.6 82 206.3C78.3 208 71.3 208 70 204.3C68.7 200.6 74.7 191.6 74 184.3C73.3 177 69.3 168.6 66 160.3C62.7 152 58.3 141.3 54 134.3C49.7 127.3 38.7 125.3 40 118.3Z" fill="#00dfff"/>
<path d="M40 118.3C41.3 111.3 56 97.3 62 92.3C68 87.3 76.3 86 76 88.3C75.7 90.6 64.3 101 60 106.3C55.7 111.6 50 114.6 50 120.3C50 126 56.7 134.6 60 140.3C63.3 146 67 148.6 70 154.3C73 160 76 167.6 78 174.3C80 181 81.5 189.3 82 194.3C82.5 199.3 82.8 202.6 81 204.3C79.2 206 72.2 207.6 71 204.3C69.8 201 74.8 191.6 74 184.3C73.2 177 69.3 168.6 66 160.3C62.7 152 58.3 141.3 54 134.3C49.7 127.3 38.7 125.3 40 118.3Z" fill="#009fff"/>
<path d="M62 146.3C61.3 142.6 65.7 141.3 68 144.3C70.3 147.3 75.3 160.6 76 164.3C76.7 168 74.3 169.3 72 166.3C69.7 163.3 62.7 150 62 146.3Z" fill="#0050ff"/>
<path d="M134 68.3C135 67 142.2 68 144 70.3C145.8 72.6 146 81 145 82.3C144 83.6 139.8 80.6 138 78.3C136.2 76 133 69.6 134 68.3Z" fill="#00dfff"/>
<path d="M140 94.3C141 92.6 146 92.3 147 94.3C148 96.3 147 104.6 146 106.3C145 108 142 106.3 141 104.3C140 102.3 139 96 140 94.3Z" fill="#00dfff"/>
<path d="M134 132.3C135.3 134.3 142 140 146 140.3C150 140.6 153.3 136.3 158 134.3C162.7 132.3 168.7 130.3 174 128.3C179.3 126.3 185.8 124.6 190 122.3C194.2 120 197.5 117.3 199 114.3C200.5 111.3 200.5 104 199 104.3C197.5 104.6 194.2 113 190 116.3C185.8 119.6 179.7 122 174 124.3C168.3 126.6 160.7 128.6 156 130.3C151.3 132 149 134.6 146 134.3C143 134 140 128.6 138 128.3C136 128 132.7 130.3 134 132.3Z" fill="#00dfff"/>
<path d="M166 30.3C169.2 23.6 192.3 12 199 8.3C205.7 4.6 204.8 -9.4 206 8.3C207.2 26 207.3 96.6 206 114.3C204.7 132 199.5 119 198 114.3C196.5 109.6 198.3 94.6 197 86.3C195.7 78 192.8 70.6 190 64.3C187.2 58 184 54 180 48.3C176 42.6 162.8 37 166 30.3Z" fill="#00dfff"/>
<path d="M172 31.3C174.5 25.8 193.3 14.6 199 11.3C204.7 8 204.8 -1.2 206 11.3C207.2 23.8 207.2 74.5 206 86.3C204.8 98.1 201.3 86.6 199 82.3C196.7 78 194.5 66.6 192 60.3C189.5 54 187.3 49.1 184 44.3C180.7 39.5 169.5 36.8 172 31.3Z" fill="#20ffdf"/>
<path d="M182 34.3C183.3 30 195 24.3 199 22.3C203 20.3 204.8 15 206 22.3C207.2 29.6 207.2 59.6 206 66.3C204.8 73 201.5 65.3 199 62.3C196.5 59.3 193.8 53 191 48.3C188.2 43.6 180.7 38.6 182 34.3Z" fill="#60ff9f"/>
<path d="M102 62.3C104.3 59.3 109 55.6 112 56.3C115 57 117.3 62.6 120 66.3C122.7 70 125.3 74.3 128 78.3C130.7 82.3 134 85.6 136 90.3C138 95 139.7 101 140 106.3C140.3 111.6 137.3 117.6 138 122.3C138.7 127 141.3 131.3 144 134.3C146.7 137.3 149.7 140.3 154 140.3C158.3 140.3 164.7 136 170 134.3C175.3 132.6 181.2 130.3 186 130.3C190.8 130.3 195.7 133 199 134.3C202.3 135.6 204.8 99.6 206 138.3C207.2 177 241.3 328.3 206 366.3C170.7 404.3 29.3 372 -6 366.3C-41.3 360.6 -9.3 340.3 -6 332.3C-2.7 324.3 7.3 324 14 318.3C20.7 312.6 28.3 304.3 34 298.3C39.7 292.3 43.3 289 48 282.3C52.7 275.6 57 266.6 62 258.3C67 250 73.3 239.6 78 232.3C82.7 225 87.3 222.3 90 214.3C92.7 206.3 94 194.3 94 184.3C94 174.3 91 164.3 90 154.3C89 144.3 87.7 134.3 88 124.3C88.3 114.3 90.3 102.6 92 94.3C93.7 86 96.3 79.6 98 74.3C99.7 69 99.7 65.3 102 62.3Z" fill="#60ff9f"/>
<path d="M120 154.3C120.7 149 123.7 147.3 126 146.3C128.3 145.3 131.7 146.3 134 148.3C136.3 150.3 137.7 155.3 140 158.3C142.3 161.3 144.7 164.3 148 166.3C151.3 168.3 156.3 170.3 160 170.3C163.7 170.3 166.7 166 170 166.3C173.3 166.6 176.7 170.3 180 172.3C183.3 174.3 185.7 176 190 178.3C194.3 180.6 203.3 177 206 186.3C208.7 195.6 207.2 225.3 206 234.3C204.8 243.3 201.3 237 199 240.3C196.7 243.6 194.2 250.3 192 254.3C189.8 258.3 189 261 186 264.3C183 267.6 177.3 270.6 174 274.3C170.7 278 166 283 166 286.3C166 289.6 171 291.6 174 294.3C177 297 181.3 298.3 184 302.3C186.7 306.3 188.3 312.3 190 318.3C191.7 324.3 193.7 330.3 194 338.3C194.3 346.3 225.3 361.6 192 366.3C158.7 371 27 372 -6 366.3C-39 360.6 -9.3 340.3 -6 332.3C-2.7 324.3 7.3 324 14 318.3C20.7 312.6 28.3 304.3 34 298.3C39.7 292.3 43 288.3 48 282.3C53 276.3 58.3 269 64 262.3C69.7 255.6 75.7 249.3 82 242.3C88.3 235.3 96.3 227.3 102 220.3C107.7 213.3 112.7 207.3 116 200.3C119.3 193.3 121.3 186 122 178.3C122.7 170.6 119.3 159.6 120 154.3Z" fill="#afff50"/>
<path d="M194 240.3C195.2 237 204 231.3 206 234.3C208 237.3 207.2 255 206 258.3C204.8 261.6 201 257.3 199 254.3C197 251.3 192.8 243.6 194 240.3Z" fill="#20ffdf"/>
<path d="M50 280.3C55.3 275 60.3 270.3 66 266.3C71.7 262.3 77.3 258.8 84 256.3C90.7 253.8 98.3 252.6 106 251.3C113.7 250 123.3 248.5 130 248.3C136.7 248.1 143 248 146 250.3C149 252.6 148 257.6 148 262.3C148 267 145.3 273.6 146 278.3C146.7 283 149.3 286.3 152 290.3C154.7 294.3 158.7 297.6 162 302.3C165.3 307 169 313 172 318.3C175 323.6 177.7 329 180 334.3C182.3 339.6 184.7 345 186 350.3C187.3 355.6 220 363.6 188 366.3C156 369 26.3 372 -6 366.3C-38.3 360.6 -9.3 340.3 -6 332.3C-2.7 324.3 7.3 324 14 318.3C20.7 312.6 28 304.6 34 298.3C40 292 44.7 285.6 50 280.3Z" fill="#efff10"/>
<path d="M48 283.3C52.7 279.6 56.3 277.8 62 276.3C67.7 274.8 76 274.6 82 274.3C88 274 93.7 273.3 98 274.3C102.3 275.3 105.3 277.6 108 280.3C110.7 283 113 287.3 114 290.3C115 293.3 113 295 114 298.3C115 301.6 116.7 307 120 310.3C123.3 313.6 129.7 315.6 134 318.3C138.3 321 142 323 146 326.3C150 329.6 154.7 334.3 158 338.3C161.3 342.3 164 345.6 166 350.3C168 355 198.7 363.6 170 366.3C141.3 369 23.3 372 -6 366.3C-35.3 360.6 -9.3 340.3 -6 332.3C-2.7 324.3 7.3 324 14 318.3C20.7 312.6 28.3 304.1 34 298.3C39.7 292.5 43.3 287 48 283.3Z" fill="#ffcf00"/>
<path d="M102 312.3C103.7 310.6 112.3 309 114 310.3C115.7 311.6 113 318 112 320.3C111 322.6 109.3 324.3 108 324.3C106.7 324.3 105 322.3 104 320.3C103 318.3 100.3 314 102 312.3Z" fill="#efff10"/>
<path d="M74 332.3C76.7 329.3 78 326.3 82 326.3C86 326.3 92.7 330 98 332.3C103.3 334.6 109.3 337.6 114 340.3C118.7 343 122.7 345.3 126 348.3C129.3 351.3 132.7 355.3 134 358.3C135.3 361.3 157.3 365 134 366.3C110.7 367.6 17.3 372 -6 366.3C-29.3 360.6 -9.3 340.3 -6 332.3C-2.7 324.3 7.3 324 14 318.3C20.7 312.6 28.3 303.6 34 298.3C39.7 293 43.7 288.3 48 286.3C52.3 284.3 57.5 285.6 60 286.3C62.5 287 63.7 287.3 63 290.3C62.3 293.3 58.5 299.6 56 304.3C53.5 309 50.7 314.3 48 318.3C45.3 322.3 41.7 324.6 40 328.3C38.3 332 37.7 337 38 340.3C38.3 343.6 39.3 346.6 42 348.3C44.7 350 50 351 54 350.3C58 349.6 62.7 347.3 66 344.3C69.3 341.3 71.3 335.3 74 332.3Z" fill="#ff8f00"/>
<path d="M62 348.3C64.7 346.3 67.3 342.3 70 342.3C72.7 342.3 75.7 346 78 348.3C80.3 350.6 82.7 353.3 84 356.3C85.3 359.3 101 364.6 86 366.3C71 368 9.3 372 -6 366.3C-21.3 360.6 -9.3 340.3 -6 332.3C-2.7 324.3 7.3 324 14 318.3C20.7 312.6 28.7 303.1 34 298.3C39.3 293.5 42.3 290.6 46 289.3C49.7 288 55 287.8 56 290.3C57 292.8 54 299.6 52 304.3C50 309 46.7 314.3 44 318.3C41.3 322.3 37.8 324.6 36 328.3C34.2 332 33.3 336.6 33 340.3C32.7 344 32.2 348 34 350.3C35.8 352.6 40.7 353.6 44 354.3C47.3 355 51 355.3 54 354.3C57 353.3 59.3 350.3 62 348.3Z" fill="#ff4000"/>
<path d="M24 318.3C25 314.3 30.7 308 34 304.3C37.3 300.6 41 297.6 44 296.3C47 295 51 294.6 52 296.3C53 298 51.7 302.6 50 306.3C48.3 310 44.7 315 42 318.3C39.3 321.6 36.3 324.6 34 326.3C31.7 328 29.7 329.6 28 328.3C26.3 327 23 322.3 24 318.3Z" fill="#ff0000"/>
<path d="M54 366.3C49.7 364.3 56 357.3 58 354.3C60 351.3 62.7 348.3 66 348.3C69.3 348.3 75 351.3 78 354.3C81 357.3 88 364.3 84 366.3C80 368.3 58.3 368.3 54 366.3Z" fill="#ff0000"/>
<path d="M36 332.3C36.8 330 40.2 326 42 326.3C43.8 326.6 45 331 47 334.3C49 337.6 53.2 343.6 54 346.3C54.8 349 54 350.3 52 350.3C50 350.3 44.5 348 42 346.3C39.5 344.6 38 342.6 37 340.3C36 338 35.2 334.6 36 332.3Z" fill="#ffcf00"/>
<path d="M43 334.3C43.5 334 45.3 336.3 47 338.3C48.7 340.3 52.8 345 53 346.3C53.2 347.6 49.5 347.3 48 346.3C46.5 345.3 44.8 342.3 44 340.3C43.2 338.3 42.5 334.6 43 334.3Z" fill="#60ff9f"/>
</g><use href="#isl"/></g>
<use href="#fr"/>
</g>
<text transform="translate(217.05 1632.5) scale(1.075 1.0)" font-size="47.3" text-anchor="middle" fill="#000">December</text>
<text transform="translate(4.6 1678.8) scale(1.0 1.05)" font-size="43.5" text-anchor="start" fill="#000">41</text><text transform="translate(52.6 1659.05) scale(1.06 1.0)" font-size="36" text-anchor="start" fill="#000">o</text><text transform="translate(73.8 1678.8) scale(1.0 1.05)" font-size="43.5" text-anchor="start" fill="#000">N</text>
<text transform="translate(4.6 1776.1) scale(1.0 1.05)" font-size="43.5" text-anchor="start" fill="#000">36</text><text transform="translate(52.6 1756.35) scale(1.06 1.0)" font-size="36" text-anchor="start" fill="#000">o</text><text transform="translate(73.8 1776.1) scale(1.0 1.05)" font-size="43.5" text-anchor="start" fill="#000">N</text>
<text transform="translate(4.6 1869.7) scale(1.0 1.05)" font-size="43.5" text-anchor="start" fill="#000">31</text><text transform="translate(52.6 1849.95) scale(1.06 1.0)" font-size="36" text-anchor="start" fill="#000">o</text><text transform="translate(73.8 1869.7) scale(1.0 1.05)" font-size="43.5" text-anchor="start" fill="#000">N</text>
<text transform="translate(4.6 1954.4) scale(1.0 1.05)" font-size="43.5" text-anchor="start" fill="#000">26</text><text transform="translate(52.6 1934.65) scale(1.06 1.0)" font-size="36" text-anchor="start" fill="#000">o</text><text transform="translate(73.8 1954.4) scale(1.0 1.05)" font-size="43.5" text-anchor="start" fill="#000">N</text>
<text transform="translate(4.6 2039.4) scale(1.0 1.05)" font-size="43.5" text-anchor="start" fill="#000">21</text><text transform="translate(52.6 2019.65) scale(1.06 1.0)" font-size="36" text-anchor="start" fill="#000">o</text><text transform="translate(73.8 2039.4) scale(1.0 1.05)" font-size="43.5" text-anchor="start" fill="#000">N</text>
<text transform="translate(54.5 2070.6) scale(1.0 1.05)" font-size="43.5" text-anchor="start" fill="#000">117</text><text transform="translate(125.8 2050.85) scale(1.06 1.0)" font-size="36" text-anchor="start" fill="#000">o</text><text transform="translate(146.8 2070.6) scale(1.0 1.05)" font-size="43.5" text-anchor="start" fill="#000">E</text>
<text transform="translate(208.4 2070.6) scale(1.0 1.05)" font-size="43.5" text-anchor="start" fill="#000">127</text><text transform="translate(279.2 2050.85) scale(1.06 1.0)" font-size="36" text-anchor="start" fill="#000">o</text><text transform="translate(300.3 2070.6) scale(1.0 1.05)" font-size="43.5" text-anchor="start" fill="#000">E</text>
<g transform="translate(497.5 1652.7)">
<g clip-path="url(#bx)"><g clip-path="url(#oc)">
<rect x="0" y="0" width="203.3" height="364.9" fill="#20ffdf"/>
<path d="M3.5 4.3C16.5 -8.7 68.5 1 81.5 4.3C94.5 7.6 83.5 19.3 81.5 24.3C79.5 29.3 73.5 31.6 69.5 34.3C65.5 37 60.8 37.6 57.5 40.3C54.2 43 51.2 46.6 49.5 50.3C47.8 54 47.8 58.3 47.5 62.3C47.2 66.3 54.8 71 47.5 74.3C40.2 77.6 10.8 94 3.5 82.3C-3.8 70.6 -9.5 17.3 3.5 4.3Z" fill="#009fff"/>
<path d="M45.5 54.3C44.8 51 46.8 44.6 49.5 40.3C52.2 36 57.8 32.3 61.5 28.3C65.2 24.3 69.2 17.6 71.5 16.3C73.8 15 75.8 17.6 75.5 20.3C75.2 23 71.2 28.3 69.5 32.3C67.8 36.3 64.8 40.6 65.5 44.3C66.2 48 70.2 51.3 73.5 54.3C76.8 57.3 84.2 60 85.5 62.3C86.8 64.6 84.8 68.3 81.5 68.3C78.2 68.3 70.2 63.6 65.5 62.3C60.8 61 56.8 61.6 53.5 60.3C50.2 59 46.2 57.6 45.5 54.3Z" fill="#00dfff"/>
<path d="M12.5 48.3C11.8 46.4 15.2 42.6 17.5 42.3C19.8 42 25.8 44.4 26.5 46.3C27.2 48.2 23.8 53.6 21.5 53.9C19.2 54.2 13.2 50.2 12.5 48.3Z" fill="#0050ff"/>
<path d="M61.5 50.3C62.8 47.3 72.2 45 77.5 42.3C82.8 39.6 88.8 36.3 93.5 34.3C98.2 32.3 100.8 30.6 105.5 30.3C110.2 30 117.8 30.6 121.5 32.3C125.2 34 127.2 37 127.5 40.3C127.8 43.6 125.8 50.6 123.5 52.3C121.2 54 117.2 50.3 113.5 50.3C109.8 50.3 104.8 50.6 101.5 52.3C98.2 54 95.2 57 93.5 60.3C91.8 63.6 93.5 71 91.5 72.3C89.5 73.6 85.2 70.3 81.5 68.3C77.8 66.3 72.8 63.3 69.5 60.3C66.2 57.3 60.2 53.3 61.5 50.3Z" fill="#00dfff"/>
<path d="M39.5 118.3C40.8 111.3 53.2 97.6 61.5 92.3C69.8 87 86.2 84.6 89.5 86.3C92.8 88 83.5 97 81.5 102.3C79.5 107.6 77.5 112.3 77.5 118.3C77.5 124.3 80.2 132.3 81.5 138.3C82.8 144.3 84.2 148.3 85.5 154.3C86.8 160.3 88.2 167.6 89.5 174.3C90.8 181 94.8 189 93.5 194.3C92.2 199.6 85.5 204.6 81.5 206.3C77.5 208 70.8 208 69.5 204.3C68.2 200.6 74.2 191.6 73.5 184.3C72.8 177 68.8 168.6 65.5 160.3C62.2 152 57.8 141.3 53.5 134.3C49.2 127.3 38.2 125.3 39.5 118.3Z" fill="#00dfff"/>
<path d="M39.5 118.3C40.8 111.3 54.5 97.5 61.5 92.3C68.5 87.1 80.8 85 81.5 87.3C82.2 89.6 69.2 100.8 65.5 106.3C61.8 111.8 59.5 114.6 59.5 120.3C59.5 126 63.2 134.6 65.5 140.3C67.8 146 71.2 148.6 73.5 154.3C75.8 160 77.8 167.6 79.5 174.3C81.2 181 83.2 189.3 83.5 194.3C83.8 199.3 83.7 202.6 81.5 204.3C79.3 206 71.8 207.6 70.5 204.3C69.2 201 74.3 191.6 73.5 184.3C72.7 177 68.8 168.6 65.5 160.3C62.2 152 57.8 141.3 53.5 134.3C49.2 127.3 38.2 125.3 39.5 118.3Z" fill="#009fff"/>
<path d="M39.5 118.3C40.8 111.3 55.8 97.3 61.5 92.3C67.2 87.3 74.2 86 73.5 88.3C72.8 90.6 61.5 101 57.5 106.3C53.5 111.6 49.5 115 49.5 120.3C49.5 125.6 54.5 132.6 57.5 138.3C60.5 144 64.5 148.3 67.5 154.3C70.5 160.3 73.5 168.3 75.5 174.3C77.5 180.3 79.8 188.3 79.5 190.3C79.2 192.3 75.8 191.3 73.5 186.3C71.2 181.3 68.8 169 65.5 160.3C62.2 151.6 57.8 141.3 53.5 134.3C49.2 127.3 38.2 125.3 39.5 118.3Z" fill="#0050ff"/>
<path d="M133.5 68.3C134.5 67 141.7 68 143.5 70.3C145.3 72.6 145.5 81 144.5 82.3C143.5 83.6 139.3 80.6 137.5 78.3C135.7 76 132.5 69.6 133.5 68.3Z" fill="#00dfff"/>
<path d="M139.5 94.3C140.5 92.6 145.5 92.3 146.5 94.3C147.5 96.3 146.5 104.6 145.5 106.3C144.5 108 141.5 106.3 140.5 104.3C139.5 102.3 138.5 96 139.5 94.3Z" fill="#00dfff"/>
<path d="M133.5 132.3C134.8 134.3 141.5 140 145.5 140.3C149.5 140.6 152.8 136.3 157.5 134.3C162.2 132.3 168.2 130.3 173.5 128.3C178.8 126.3 185.3 124.6 189.5 122.3C193.7 120 197 117.3 198.5 114.3C200 111.3 200 104 198.5 104.3C197 104.6 193.7 113 189.5 116.3C185.3 119.6 179.2 122 173.5 124.3C167.8 126.6 160.2 128.6 155.5 130.3C150.8 132 148.5 134.6 145.5 134.3C142.5 134 139.5 128.6 137.5 128.3C135.5 128 132.2 130.3 133.5 132.3Z" fill="#00dfff"/>
<path d="M165.5 30.3C168.7 23.6 191.8 12 198.5 8.3C205.2 4.6 204.3 -9.4 205.5 8.3C206.7 26 206.8 96.6 205.5 114.3C204.2 132 199 119 197.5 114.3C196 109.6 197.8 94.6 196.5 86.3C195.2 78 192.3 70.6 189.5 64.3C186.7 58 183.5 54 179.5 48.3C175.5 42.6 162.3 37 165.5 30.3Z" fill="#009fff"/>
<path d="M169.5 31.3C172 25.6 192.5 13.8 198.5 10.3C204.5 6.8 204.3 -2.4 205.5 10.3C206.7 23 206.7 74.3 205.5 86.3C204.3 98.3 200.8 86.6 198.5 82.3C196.2 78 194 66.6 191.5 60.3C189 54 187.2 49.1 183.5 44.3C179.8 39.5 167 37 169.5 31.3Z" fill="#00dfff"/>
<path d="M177.5 34.3C179.3 31.3 193.8 27.6 198.5 26.3C203.2 25 204.3 20.3 205.5 26.3C206.7 32.3 206.7 57 205.5 62.3C204.3 67.6 201.5 61.3 198.5 58.3C195.5 55.3 191 48.3 187.5 44.3C184 40.3 175.7 37.3 177.5 34.3Z" fill="#20ffdf"/>
<path d="M107.5 154.3C107.8 147 108.8 140.3 111.5 134.3C114.2 128.3 120.8 119 123.5 118.3C126.2 117.6 125.2 127.6 127.5 130.3C129.8 133 134.5 132.6 137.5 134.3C140.5 136 142.2 139.6 145.5 140.3C148.8 141 152.8 139.6 157.5 138.3C162.2 137 168.2 133.6 173.5 132.3C178.8 131 185.3 129 189.5 130.3C193.7 131.6 195.8 138 198.5 140.3C201.2 142.6 204.3 106.6 205.5 144.3C206.7 182 240.8 329.3 205.5 366.3C170.2 403.3 28.8 372 -6.5 366.3C-41.8 360.6 -9.8 340.3 -6.5 332.3C-3.2 324.3 6.8 324 13.5 318.3C20.2 312.6 27.8 304.3 33.5 298.3C39.2 292.3 42.8 289 47.5 282.3C52.2 275.6 56.5 265.6 61.5 258.3C66.5 251 72.5 244 77.5 238.3C82.5 232.6 87.5 230 91.5 224.3C95.5 218.6 98.5 212 101.5 204.3C104.5 196.6 108.5 186.6 109.5 178.3C110.5 170 107.2 161.6 107.5 154.3Z" fill="#60ff9f"/>
<path d="M141.5 152.3C143.5 151 152.8 149.3 155.5 150.3C158.2 151.3 158.2 156.3 157.5 158.3C156.8 160.3 153.8 162.3 151.5 162.3C149.2 162.3 145.2 160 143.5 158.3C141.8 156.6 139.5 153.6 141.5 152.3Z" fill="#00dfff"/>
<path d="M153.5 200.3C155.8 196.3 157.8 193.6 161.5 190.3C165.2 187 171.5 181.3 175.5 180.3C179.5 179.3 181.7 183 185.5 184.3C189.3 185.6 195.2 187.3 198.5 188.3C201.8 189.3 204.3 182 205.5 190.3C206.7 198.6 206.7 230 205.5 238.3C204.3 246.6 202.2 237.6 198.5 240.3C194.8 243 188.3 250.6 183.5 254.3C178.7 258 174.2 260 169.5 262.3C164.8 264.6 158.8 265 155.5 268.3C152.2 271.6 150.2 276.3 149.5 282.3C148.8 288.3 149.5 297.3 151.5 304.3C153.5 311.3 158.5 317.6 161.5 324.3C164.5 331 167.5 337.3 169.5 344.3C171.5 351.3 202.8 362.6 173.5 366.3C144.2 370 23.5 372 -6.5 366.3C-36.5 360.6 -9.8 340.3 -6.5 332.3C-3.2 324.3 6.8 324 13.5 318.3C20.2 312.6 27.8 304.3 33.5 298.3C39.2 292.3 42.8 287.3 47.5 282.3C52.2 277.3 55.8 273 61.5 268.3C67.2 263.6 74.8 258 81.5 254.3C88.2 250.6 94.8 248.6 101.5 246.3C108.2 244 115.5 243.3 121.5 240.3C127.5 237.3 133.2 232.6 137.5 228.3C141.8 224 144.8 219 147.5 214.3C150.2 209.6 151.2 204.3 153.5 200.3Z" fill="#afff50"/>
<path d="M165.5 286.3C165.5 282.3 170.2 280.3 173.5 278.3C176.8 276.3 182.2 275.6 185.5 274.3C188.8 273 191.3 270.3 193.5 270.3C195.7 270.3 196.5 273.6 198.5 274.3C200.5 275 204.3 259 205.5 274.3C206.7 289.6 207.2 351 205.5 366.3C203.8 381.6 197.8 371.6 195.5 366.3C193.2 361 193.2 343 191.5 334.3C189.8 325.6 188.5 319.6 185.5 314.3C182.5 309 176.8 307 173.5 302.3C170.2 297.6 165.5 290.3 165.5 286.3Z" fill="#20ffdf"/>
<path d="M65.5 346.3C68.8 343 70.8 335.6 73.5 330.3C76.2 325 78.8 316.3 81.5 314.3C84.2 312.3 86.8 315.3 89.5 318.3C92.2 321.3 94.2 328 97.5 332.3C100.8 336.6 105.8 340.3 109.5 344.3C113.2 348.3 117.5 352.6 119.5 356.3C121.5 360 142.5 364.6 121.5 366.3C100.5 368 14.8 372 -6.5 366.3C-27.8 360.6 -9.8 340.3 -6.5 332.3C-3.2 324.3 6.8 324 13.5 318.3C20.2 312.6 27.8 303.6 33.5 298.3C39.2 293 42.8 288.8 47.5 286.3C52.2 283.8 58.8 283 61.5 283.3C64.2 283.6 64.2 285.5 63.5 288.3C62.8 291.1 60.2 296 57.5 300.3C54.8 304.6 50.5 309.6 47.5 314.3C44.5 319 41.2 324 39.5 328.3C37.8 332.6 37.2 337 37.5 340.3C37.8 343.6 38.8 346.6 41.5 348.3C44.2 350 49.5 350.6 53.5 350.3C57.5 350 62.2 349.6 65.5 346.3Z" fill="#efff10"/>
<path d="M-6.5 366.3C-20.2 361 -9.2 341.3 -6.5 334.3C-3.8 327.3 4.8 327.6 9.5 324.3C14.2 321 17.5 318.3 21.5 314.3C25.5 310.3 29.5 304.1 33.5 300.3C37.5 296.5 41.8 292.6 45.5 291.3C49.2 290 54.5 290.1 55.5 292.3C56.5 294.5 53.5 300.3 51.5 304.3C49.5 308.3 46.2 312.6 43.5 316.3C40.8 320 37.2 323.3 35.5 326.3C33.8 329.3 35.2 333 33.5 334.3C31.8 335.6 28.2 333.3 25.5 334.3C22.8 335.3 17.5 338 17.5 340.3C17.5 342.6 22.2 346.3 25.5 348.3C28.8 350.3 32.8 351.6 37.5 352.3C42.2 353 48.2 353 53.5 352.3C58.8 351.6 65.8 347.3 69.5 348.3C73.2 349.3 74.5 355.3 75.5 358.3C76.5 361.3 89.2 365 75.5 366.3C61.8 367.6 7.2 371.6 -6.5 366.3Z" fill="#ffcf00"/>
<path d="M29.5 318.3C29.8 316.3 33.2 311 35.5 308.3C37.8 305.6 41.2 303.6 43.5 302.3C45.8 301 48.8 299.3 49.5 300.3C50.2 301.3 48.8 306 47.5 308.3C46.2 310.6 43.8 312.3 41.5 314.3C39.2 316.3 35.5 319.6 33.5 320.3C31.5 321 29.2 320.3 29.5 318.3Z" fill="#ff8f00"/>
<path d="M39.5 334.3C39.5 332.6 42.2 331.6 43.5 332.3C44.8 333 45.8 336 47.5 338.3C49.2 340.6 53.2 344.6 53.5 346.3C53.8 348 51.2 349 49.5 348.3C47.8 347.6 45.2 344.6 43.5 342.3C41.8 340 39.5 336 39.5 334.3Z" fill="#60ff9f"/>
</g><use href="#isl"/></g>
<use href="#fr"/>
</g>
<text transform="translate(598.85 1632.5) scale(1.075 1.0)" font-size="47.3" text-anchor="middle" fill="#000">January</text>
<text transform="translate(436 2070.6) scale(1.0 1.05)" font-size="43.5" text-anchor="start" fill="#000">117</text><text transform="translate(507.3 2050.85) scale(1.06 1.0)" font-size="36" text-anchor="start" fill="#000">o</text><text transform="translate(528.3 2070.6) scale(1.0 1.05)" font-size="43.5" text-anchor="start" fill="#000">E</text>
<text transform="translate(589.9 2070.6) scale(1.0 1.05)" font-size="43.5" text-anchor="start" fill="#000">127</text><text transform="translate(660.7 2050.85) scale(1.06 1.0)" font-size="36" text-anchor="start" fill="#000">o</text><text transform="translate(681.8 2070.6) scale(1.0 1.05)" font-size="43.5" text-anchor="start" fill="#000">E</text>
<g transform="translate(864.2 1652.7)">
<g clip-path="url(#bx)"><g clip-path="url(#oc)">
<rect x="0" y="0" width="203.3" height="364.9" fill="#20ffdf"/>
<path d="M3.8 4.3C16.8 -8.7 68.8 -1.7 81.8 4.3C94.8 10.3 83.1 32.6 81.8 40.3C80.5 48 74.5 47 73.8 50.3C73.1 53.6 77.8 57.3 77.8 60.3C77.8 63.3 75.8 65.3 73.8 68.3C71.8 71.3 77.5 76 65.8 78.3C54.1 80.6 14.1 94.6 3.8 82.3C-6.5 70 -9.2 17.3 3.8 4.3Z" fill="#009fff"/>
<path d="M12.8 48.3C12.1 46.4 15.3 42.6 17.8 42.3C20.3 42 27.1 44.4 27.8 46.3C28.5 48.2 24.3 53.6 21.8 53.9C19.3 54.2 13.5 50.2 12.8 48.3Z" fill="#0050ff"/>
<path d="M73.8 58.3C73.8 55 77.8 50 81.8 46.3C85.8 42.6 92.5 38.6 97.8 36.3C103.1 34 109.5 32.3 113.8 32.3C118.1 32.3 121.8 34 123.8 36.3C125.8 38.6 126.8 43.3 125.8 46.3C124.8 49.3 121.1 51.6 117.8 54.3C114.5 57 109.1 59 105.8 62.3C102.5 65.6 99.8 70.3 97.8 74.3C95.8 78.3 95.8 84.3 93.8 86.3C91.8 88.3 86.5 89 85.8 86.3C85.1 83.6 90.5 73.6 89.8 70.3C89.1 67 84.5 68.3 81.8 66.3C79.1 64.3 73.8 61.6 73.8 58.3Z" fill="#00dfff"/>
<path d="M65.8 50.3C67.1 47.6 76.5 45.3 81.8 42.3C87.1 39.3 92.5 34.3 97.8 32.3C103.1 30.3 109.1 29.6 113.8 30.3C118.5 31 124.1 34 125.8 36.3C127.5 38.6 125.8 44 123.8 44.3C121.8 44.6 117.5 39.3 113.8 38.3C110.1 37.3 105.8 37 101.8 38.3C97.8 39.6 94.5 43 89.8 46.3C85.1 49.6 77.8 57.6 73.8 58.3C69.8 59 64.5 53 65.8 50.3Z" fill="#009fff"/>
<path d="M39.8 118.3C41.1 111.3 52.8 97.6 61.8 92.3C70.8 87 89.8 84.6 93.8 86.3C97.8 88 87.8 97 85.8 102.3C83.8 107.6 82.1 112.3 81.8 118.3C81.5 124.3 83.1 132.3 83.8 138.3C84.5 144.3 84.8 148.3 85.8 154.3C86.8 160.3 88.5 167.6 89.8 174.3C91.1 181 95.1 189 93.8 194.3C92.5 199.6 85.8 204.6 81.8 206.3C77.8 208 71.1 208 69.8 204.3C68.5 200.6 74.5 191.6 73.8 184.3C73.1 177 69.1 168.6 65.8 160.3C62.5 152 58.1 141.3 53.8 134.3C49.5 127.3 38.5 125.3 39.8 118.3Z" fill="#00dfff"/>
<path d="M39.8 118.3C41.1 111.3 55.5 97.3 61.8 92.3C68.1 87.3 77.1 86.3 77.8 88.3C78.5 90.3 68.8 99 65.8 104.3C62.8 109.6 59.8 114.3 59.8 120.3C59.8 126.3 63.5 134.6 65.8 140.3C68.1 146 71.5 148.6 73.8 154.3C76.1 160 78.1 167.6 79.8 174.3C81.5 181 83.5 189.3 83.8 194.3C84.1 199.3 84 202.6 81.8 204.3C79.6 206 72.1 207.6 70.8 204.3C69.5 201 74.6 191.6 73.8 184.3C73 177 69.1 168.6 65.8 160.3C62.5 152 58.1 141.3 53.8 134.3C49.5 127.3 38.5 125.3 39.8 118.3Z" fill="#009fff"/>
<path d="M61.8 146.3C61.1 142.6 65.5 141.3 67.8 144.3C70.1 147.3 75.1 160.6 75.8 164.3C76.5 168 74.1 169.3 71.8 166.3C69.5 163.3 62.5 150 61.8 146.3Z" fill="#0050ff"/>
<path d="M119.8 62.3C120.5 61.6 125.8 68.3 129.8 70.3C133.8 72.3 141.3 71.6 143.8 74.3C146.3 77 144.3 81.6 144.8 86.3C145.3 91 147.3 97.6 146.8 102.3C146.3 107 143.6 114.3 141.8 114.3C140 114.3 137.1 107 135.8 102.3C134.5 97.6 135.5 91 133.8 86.3C132.1 81.6 128.1 78.3 125.8 74.3C123.5 70.3 119.1 63 119.8 62.3Z" fill="#00dfff"/>
<path d="M133.8 68.3C134.8 67 142 68.3 143.8 70.3C145.6 72.3 145.8 79 144.8 80.3C143.8 81.6 139.6 80.3 137.8 78.3C136 76.3 132.8 69.6 133.8 68.3Z" fill="#009fff"/>
<path d="M133.8 132.3C135.1 134.3 141.8 140 145.8 140.3C149.8 140.6 153.1 136.3 157.8 134.3C162.5 132.3 168.5 130.3 173.8 128.3C179.1 126.3 185.6 124.6 189.8 122.3C194 120 197.3 117.3 198.8 114.3C200.3 111.3 200.3 104 198.8 104.3C197.3 104.6 194 113 189.8 116.3C185.6 119.6 179.5 122 173.8 124.3C168.1 126.6 160.5 128.6 155.8 130.3C151.1 132 148.8 134.6 145.8 134.3C142.8 134 139.8 128.6 137.8 128.3C135.8 128 132.5 130.3 133.8 132.3Z" fill="#00dfff"/>
<path d="M165.8 30.3C169 23.6 192.1 12 198.8 8.3C205.5 4.6 204.6 -9.4 205.8 8.3C207 26 207.1 96.6 205.8 114.3C204.5 132 199.3 119 197.8 114.3C196.3 109.6 198.1 94.6 196.8 86.3C195.5 78 192.6 70.6 189.8 64.3C187 58 183.8 54 179.8 48.3C175.8 42.6 162.6 37 165.8 30.3Z" fill="#009fff"/>
<path d="M169.8 31.3C172.3 25.6 192.8 13.8 198.8 10.3C204.8 6.8 204.6 -2.4 205.8 10.3C207 23 207 74.3 205.8 86.3C204.6 98.3 201.1 86.6 198.8 82.3C196.5 78 194.3 66.6 191.8 60.3C189.3 54 187.5 49.1 183.8 44.3C180.1 39.5 167.3 37 169.8 31.3Z" fill="#00dfff"/>
<path d="M113.8 154.3C113.8 148.3 113.8 145 115.8 142.3C117.8 139.6 122.1 138.6 125.8 138.3C129.5 138 135.1 138.3 137.8 140.3C140.5 142.3 139.8 147.3 141.8 150.3C143.8 153.3 147.1 157.6 149.8 158.3C152.5 159 155.8 156.3 157.8 154.3C159.8 152.3 159.1 148 161.8 146.3C164.5 144.6 170.1 143.6 173.8 144.3C177.5 145 181.1 147.3 183.8 150.3C186.5 153.3 187.3 159 189.8 162.3C192.3 165.6 196.1 168.3 198.8 170.3C201.5 172.3 204.6 167 205.8 174.3C207 181.6 207.8 206.3 205.8 214.3C203.8 222.3 197.8 218 193.8 222.3C189.8 226.6 186.1 235 181.8 240.3C177.5 245.6 172.1 250 167.8 254.3C163.5 258.6 157.8 261.6 155.8 266.3C153.8 271 154.8 276.3 155.8 282.3C156.8 288.3 160.1 295 161.8 302.3C163.5 309.6 164.1 319 165.8 326.3C167.5 333.6 170.1 339.6 171.8 346.3C173.5 353 205.5 363 175.8 366.3C146.1 369.6 24.1 372 -6.2 366.3C-36.5 360.6 -9.5 340.3 -6.2 332.3C-2.9 324.3 7.1 324 13.8 318.3C20.5 312.6 28.1 304.3 33.8 298.3C39.5 292.3 43.1 289 47.8 282.3C52.5 275.6 56.8 265.3 61.8 258.3C66.8 251.3 72.5 246 77.8 240.3C83.1 234.6 89.1 231 93.8 224.3C98.5 217.6 102.1 208 105.8 200.3C109.5 192.6 114.5 186 115.8 178.3C117.1 170.6 113.8 160.3 113.8 154.3Z" fill="#60ff9f"/>
<path d="M47.8 282.3C53.1 277.3 59.5 272.6 65.8 268.3C72.1 264 79.1 259.3 85.8 256.3C92.5 253.3 99.1 252 105.8 250.3C112.5 248.6 119.8 248.3 125.8 246.3C131.8 244.3 136.8 241.6 141.8 238.3C146.8 235 151.5 230.6 155.8 226.3C160.1 222 164.1 216 167.8 212.3C171.5 208.6 174.5 205.3 177.8 204.3C181.1 203.3 185.8 205 187.8 206.3C189.8 207.6 191.1 209.3 189.8 212.3C188.5 215.3 183.8 220.3 179.8 224.3C175.8 228.3 170.5 232.3 165.8 236.3C161.1 240.3 155.5 244 151.8 248.3C148.1 252.6 146.1 257.3 143.8 262.3C141.5 267.3 140.1 273.3 137.8 278.3C135.5 283.3 133.1 288.3 129.8 292.3C126.5 296.3 121.8 299.3 117.8 302.3C113.8 305.3 108.8 307.3 105.8 310.3C102.8 313.3 99.8 316.6 99.8 320.3C99.8 324 102.8 329 105.8 332.3C108.8 335.6 114.5 336.6 117.8 340.3C121.1 344 124.1 350 125.8 354.3C127.5 358.6 149.8 364.3 127.8 366.3C105.8 368.3 16.1 372 -6.2 366.3C-28.5 360.6 -9.5 340.3 -6.2 332.3C-2.9 324.3 7.1 324 13.8 318.3C20.5 312.6 28.1 304.3 33.8 298.3C39.5 292.3 42.5 287.3 47.8 282.3Z" fill="#afff50"/>
<path d="M-6.2 366.3C-19.5 360.6 -9.5 340.3 -6.2 332.3C-2.9 324.3 7.1 324 13.8 318.3C20.5 312.6 28.5 302.8 33.8 298.3C39.1 293.8 42.1 292.3 45.8 291.3C49.5 290.3 54.8 290.1 55.8 292.3C56.8 294.5 53.8 300.3 51.8 304.3C49.8 308.3 46.5 312.6 43.8 316.3C41.1 320 37.8 323.3 35.8 326.3C33.8 329.3 33.1 331 31.8 334.3C30.5 337.6 26.8 343.3 27.8 346.3C28.8 349.3 33.5 351.3 37.8 352.3C42.1 353.3 48.5 353 53.8 352.3C59.1 351.6 66.5 347.3 69.8 348.3C73.1 349.3 73.1 355.3 73.8 358.3C74.5 361.3 87.1 365 73.8 366.3C60.5 367.6 7.1 372 -6.2 366.3Z" fill="#efff10"/>
<path d="M27.8 334.3C28.8 332.3 32.1 331.3 33.8 332.3C35.5 333.3 36.5 337.6 37.8 340.3C39.1 343 42.5 346.6 41.8 348.3C41.1 350 36.1 351 33.8 350.3C31.5 349.6 28.8 347 27.8 344.3C26.8 341.6 26.8 336.3 27.8 334.3Z" fill="#afff50"/>
<path d="M26.8 320.3C27.6 318.1 31 313.3 33.8 310.3C36.6 307.3 40.8 304 43.8 302.3C46.8 300.6 50.8 299.3 51.8 300.3C52.8 301.3 51.5 305.6 49.8 308.3C48.1 311 44.5 314 41.8 316.3C39.1 318.6 36 321.1 33.8 322.3C31.6 323.5 30 323.6 28.8 323.3C27.6 323 26 322.5 26.8 320.3Z" fill="#ffcf00"/>
<path d="M39.8 334.3C39.8 332.6 42.5 331.6 43.8 332.3C45.1 333 46.1 336 47.8 338.3C49.5 340.6 53.5 344.6 53.8 346.3C54.1 348 51.5 349 49.8 348.3C48.1 347.6 45.5 344.6 43.8 342.3C42.1 340 39.8 336 39.8 334.3Z" fill="#20ffdf"/>
</g><use href="#isl"/></g>
<use href="#fr"/>
</g>
<text transform="translate(957.95 1632.5) scale(1.075 1.0)" font-size="47.3" text-anchor="middle" fill="#000">February</text>
<text transform="translate(802.7 2070.6) scale(1.0 1.05)" font-size="43.5" text-anchor="start" fill="#000">117</text><text transform="translate(874 2050.85) scale(1.06 1.0)" font-size="36" text-anchor="start" fill="#000">o</text><text transform="translate(895 2070.6) scale(1.0 1.05)" font-size="43.5" text-anchor="start" fill="#000">E</text>
<text transform="translate(956.6 2070.6) scale(1.0 1.05)" font-size="43.5" text-anchor="start" fill="#000">127</text><text transform="translate(1027.4 2050.85) scale(1.06 1.0)" font-size="36" text-anchor="start" fill="#000">o</text><text transform="translate(1048.5 2070.6) scale(1.0 1.05)" font-size="43.5" text-anchor="start" fill="#000">E</text>
<rect x="1252.7" y="219.9" width="93.7" height="1697.2" fill="#800000"/>
<rect x="1252.7" y="246.42" width="93.7" height="1670.68" fill="#8f0000"/>
<rect x="1252.7" y="272.94" width="93.7" height="1644.16" fill="#9f0000"/>
<rect x="1252.7" y="299.46" width="93.7" height="1617.64" fill="#af0000"/>
<rect x="1252.7" y="325.98" width="93.7" height="1591.12" fill="#bf0000"/>
<rect x="1252.7" y="352.49" width="93.7" height="1564.61" fill="#cf0000"/>
<rect x="1252.7" y="379.01" width="93.7" height="1538.09" fill="#df0000"/>
<rect x="1252.7" y="405.53" width="93.7" height="1511.57" fill="#ef0000"/>
<rect x="1252.7" y="432.05" width="93.7" height="1485.05" fill="#ff0000"/>
<rect x="1252.7" y="458.57" width="93.7" height="1458.53" fill="#ff1000"/>
<rect x="1252.7" y="485.09" width="93.7" height="1432.01" fill="#ff2000"/>
<rect x="1252.7" y="511.61" width="93.7" height="1405.49" fill="#ff3000"/>
<rect x="1252.7" y="538.12" width="93.7" height="1378.97" fill="#ff4000"/>
<rect x="1252.7" y="564.64" width="93.7" height="1352.46" fill="#ff5000"/>
<rect x="1252.7" y="591.16" width="93.7" height="1325.94" fill="#ff6000"/>
<rect x="1252.7" y="617.68" width="93.7" height="1299.42" fill="#ff7000"/>
<rect x="1252.7" y="644.2" width="93.7" height="1272.9" fill="#ff8000"/>
<rect x="1252.7" y="670.72" width="93.7" height="1246.38" fill="#ff8f00"/>
<rect x="1252.7" y="697.24" width="93.7" height="1219.86" fill="#ff9f00"/>
<rect x="1252.7" y="723.76" width="93.7" height="1193.34" fill="#ffaf00"/>
<rect x="1252.7" y="750.28" width="93.7" height="1166.82" fill="#ffbf00"/>
<rect x="1252.7" y="776.79" width="93.7" height="1140.31" fill="#ffcf00"/>
<rect x="1252.7" y="803.31" width="93.7" height="1113.79" fill="#ffdf00"/>
<rect x="1252.7" y="829.83" width="93.7" height="1087.27" fill="#ffef00"/>
<rect x="1252.7" y="856.35" width="93.7" height="1060.75" fill="#ffff00"/>
<rect x="1252.7" y="882.87" width="93.7" height="1034.23" fill="#efff10"/>
<rect x="1252.7" y="909.39" width="93.7" height="1007.71" fill="#dfff20"/>
<rect x="1252.7" y="935.91" width="93.7" height="981.19" fill="#cfff30"/>
<rect x="1252.7" y="962.42" width="93.7" height="954.67" fill="#bfff40"/>
<rect x="1252.7" y="988.94" width="93.7" height="928.16" fill="#afff50"/>
<rect x="1252.7" y="1015.46" width="93.7" height="901.64" fill="#9fff60"/>
<rect x="1252.7" y="1041.98" width="93.7" height="875.12" fill="#8fff70"/>
<rect x="1252.7" y="1068.5" width="93.7" height="848.6" fill="#80ff80"/>
<rect x="1252.7" y="1095.02" width="93.7" height="822.08" fill="#70ff8f"/>
<rect x="1252.7" y="1121.54" width="93.7" height="795.56" fill="#60ff9f"/>
<rect x="1252.7" y="1148.06" width="93.7" height="769.04" fill="#50ffaf"/>
<rect x="1252.7" y="1174.58" width="93.7" height="742.52" fill="#40ffbf"/>
<rect x="1252.7" y="1201.09" width="93.7" height="716.01" fill="#30ffcf"/>
<rect x="1252.7" y="1227.61" width="93.7" height="689.49" fill="#20ffdf"/>
<rect x="1252.7" y="1254.13" width="93.7" height="662.97" fill="#10ffef"/>
<rect x="1252.7" y="1280.65" width="93.7" height="636.45" fill="#00ffff"/>
<rect x="1252.7" y="1307.17" width="93.7" height="609.93" fill="#00efff"/>
<rect x="1252.7" y="1333.69" width="93.7" height="583.41" fill="#00dfff"/>
<rect x="1252.7" y="1360.21" width="93.7" height="556.89" fill="#00cfff"/>
<rect x="1252.7" y="1386.72" width="93.7" height="530.38" fill="#00bfff"/>
<rect x="1252.7" y="1413.24" width="93.7" height="503.86" fill="#00afff"/>
<rect x="1252.7" y="1439.76" width="93.7" height="477.34" fill="#009fff"/>
<rect x="1252.7" y="1466.28" width="93.7" height="450.82" fill="#008fff"/>
<rect x="1252.7" y="1492.8" width="93.7" height="424.3" fill="#0080ff"/>
<rect x="1252.7" y="1519.32" width="93.7" height="397.78" fill="#0070ff"/>
<rect x="1252.7" y="1545.84" width="93.7" height="371.26" fill="#0060ff"/>
<rect x="1252.7" y="1572.36" width="93.7" height="344.74" fill="#0050ff"/>
<rect x="1252.7" y="1598.88" width="93.7" height="318.22" fill="#0040ff"/>
<rect x="1252.7" y="1625.39" width="93.7" height="291.71" fill="#0030ff"/>
<rect x="1252.7" y="1651.91" width="93.7" height="265.19" fill="#0020ff"/>
<rect x="1252.7" y="1678.43" width="93.7" height="238.67" fill="#0010ff"/>
<rect x="1252.7" y="1704.95" width="93.7" height="212.15" fill="#0000ff"/>
<rect x="1252.7" y="1731.47" width="93.7" height="185.63" fill="#0000ef"/>
<rect x="1252.7" y="1757.99" width="93.7" height="159.11" fill="#0000df"/>
<rect x="1252.7" y="1784.51" width="93.7" height="132.59" fill="#0000cf"/>
<rect x="1252.7" y="1811.02" width="93.7" height="106.08" fill="#0000bf"/>
<rect x="1252.7" y="1837.54" width="93.7" height="79.56" fill="#0000af"/>
<rect x="1252.7" y="1864.06" width="93.7" height="53.04" fill="#00009f"/>
<rect x="1252.7" y="1890.58" width="93.7" height="26.52" fill="#00008f"/>
<rect x="1250.9" y="219.9" width="97.19999999999982" height="1697.1999999999998" fill="none" stroke="#262626" stroke-width="3.4"/>
<text transform="translate(1373 1945) scale(1.0 1.04)" font-size="75" text-anchor="start" fill="#262626">0</text>
<path d="M1346.4 1634.2 h-17.5" stroke="#262626" stroke-width="2.4"/>
<text transform="translate(1373 1662.13) scale(1.0 1.04)" font-size="75" text-anchor="start" fill="#262626">0.5</text>
<path d="M1346.4 1351.4 h-17.5" stroke="#262626" stroke-width="2.4"/>
<text transform="translate(1373 1379.27) scale(1.0 1.04)" font-size="75" text-anchor="start" fill="#262626">1</text>
<path d="M1346.4 1068.5 h-17.5" stroke="#262626" stroke-width="2.4"/>
<text transform="translate(1373 1096.4) scale(1.0 1.04)" font-size="75" text-anchor="start" fill="#262626">1.5</text>
<path d="M1346.4 785.6 h-17.5" stroke="#262626" stroke-width="2.4"/>
<text transform="translate(1373 813.53) scale(1.0 1.04)" font-size="75" text-anchor="start" fill="#262626">2</text>
<path d="M1346.4 502.8 h-17.5" stroke="#262626" stroke-width="2.4"/>
<text transform="translate(1373 530.67) scale(1.0 1.04)" font-size="75" text-anchor="start" fill="#262626">2.5</text>
<text transform="translate(1373 247.8) scale(1.0 1.04)" font-size="75" text-anchor="start" fill="#262626">3</text>
<text transform="translate(1299.1 172.5) scale(1.025 0.97)" font-size="75" text-anchor="middle" fill="#000">[m]</text>
<path d="M129.5 1504.5 l1.6 -2" stroke="#444" stroke-width="1.2"/>
</svg></body></html>
